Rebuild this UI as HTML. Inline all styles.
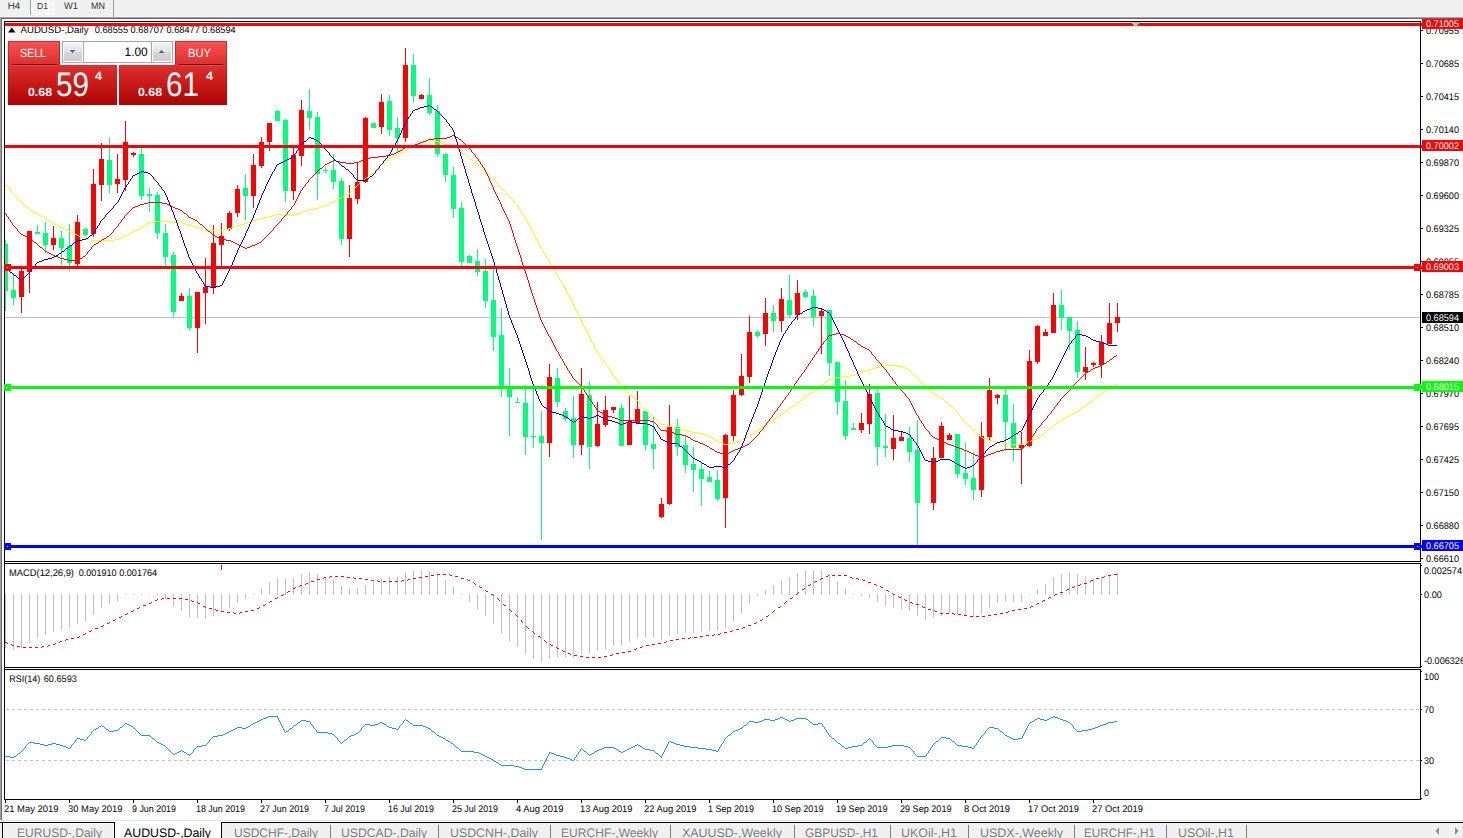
<!DOCTYPE html>
<html lang="en"><head><meta charset="utf-8"><title>AUDUSD-,Daily</title>
<style>html,body{margin:0;padding:0;background:#fff;overflow:hidden}body{width:1463px;height:838px;position:relative}</style>
</head><body>
<svg width="1463" height="838" viewBox="0 0 1463 838" shape-rendering="crispEdges" font-family='"Liberation Sans", Arial, sans-serif' style="position:absolute;left:0;top:0;display:block">
<defs><clipPath id="cm"><rect x="5" y="22" width="1415" height="539"/></clipPath><clipPath id="cmacd"><rect x="5" y="564" width="1415" height="103"/></clipPath><clipPath id="crsi"><rect x="5" y="670" width="1415" height="129"/></clipPath><linearGradient id="gs" x1="0" y1="0" x2="0" y2="1"><stop offset="0" stop-color="#fb5252"/><stop offset="0.36" stop-color="#e03030"/><stop offset="1" stop-color="#b00202"/></linearGradient><linearGradient id="gbtn" x1="0" y1="0" x2="0" y2="1"><stop offset="0" stop-color="#f3f3f3"/><stop offset="0.5" stop-color="#e2e2e2"/><stop offset="0.5" stop-color="#d6d6d6"/><stop offset="1" stop-color="#cecece"/></linearGradient></defs>
<rect x="0" y="0" width="1463" height="838" fill="#ffffff"/>
<rect x="0" y="0" width="1463" height="17" fill="#f0f0f0"/>
<rect x="0" y="16" width="1463" height="1" fill="#f7f7f7"/>
<rect x="0" y="17" width="1463" height="1" fill="#a0a0a0"/>
<rect x="0" y="18" width="1463" height="1" fill="#696969"/>
<rect x="0" y="17" width="1" height="804" fill="#a0a0a0"/>
<rect x="1" y="18" width="1" height="803" fill="#696969"/>
<rect x="4" y="21" width="1417" height="1" fill="#000"/>
<rect x="4" y="21" width="1" height="779" fill="#000"/>
<rect x="1420" y="21" width="1" height="541" fill="#000"/>
<rect x="4" y="561" width="1417" height="1" fill="#000"/>
<rect x="4" y="563" width="1417" height="1" fill="#000"/>
<rect x="1420" y="563" width="1" height="105" fill="#000"/>
<rect x="4" y="667" width="1417" height="1" fill="#000"/>
<rect x="4" y="669" width="1417" height="1" fill="#000"/>
<rect x="1420" y="669" width="1" height="131" fill="#000"/>
<rect x="4" y="799" width="1417" height="1" fill="#000"/>
<rect x="5" y="562" width="1415" height="1" fill="#fff"/>
<rect x="5" y="668" width="1415" height="1" fill="#fff"/>
<g clip-path="url(#cm)">
<rect x="5" y="317" width="1415" height="1" fill="#c0c0c0"/>
<rect x="5" y="240" width="1" height="71" fill="#00ff7f"/>
<rect x="3" y="244" width="5" height="47" fill="#00ff7f"/>
<rect x="13" y="273" width="1" height="32" fill="#00ff7f"/>
<rect x="11" y="290" width="5" height="8" fill="#00ff7f"/>
<rect x="21" y="268" width="1" height="45" fill="#ff0000"/>
<rect x="19" y="271" width="5" height="26" fill="#ff0000"/>
<rect x="29" y="231" width="1" height="62" fill="#ff0000"/>
<rect x="27" y="231" width="5" height="41" fill="#ff0000"/>
<rect x="37" y="225" width="1" height="9" fill="#00ff7f"/>
<rect x="35" y="232" width="5" height="2" fill="#00ff7f"/>
<rect x="45" y="222" width="1" height="32" fill="#00ff7f"/>
<rect x="43" y="233" width="5" height="12" fill="#00ff7f"/>
<rect x="53" y="226" width="1" height="24" fill="#ff0000"/>
<rect x="51" y="238" width="5" height="7" fill="#ff0000"/>
<rect x="61" y="231" width="1" height="34" fill="#00ff7f"/>
<rect x="59" y="238" width="5" height="10" fill="#00ff7f"/>
<rect x="69" y="224" width="1" height="47" fill="#00ff7f"/>
<rect x="67" y="246" width="5" height="17" fill="#00ff7f"/>
<rect x="77" y="215" width="1" height="51" fill="#ff0000"/>
<rect x="75" y="222" width="5" height="42" fill="#ff0000"/>
<rect x="85" y="228" width="1" height="8" fill="#00ff7f"/>
<rect x="83" y="229" width="5" height="6" fill="#00ff7f"/>
<rect x="93" y="169" width="1" height="68" fill="#ff0000"/>
<rect x="91" y="184" width="5" height="50" fill="#ff0000"/>
<rect x="101" y="143" width="1" height="58" fill="#ff0000"/>
<rect x="99" y="159" width="5" height="26" fill="#ff0000"/>
<rect x="109" y="138" width="1" height="55" fill="#00ff7f"/>
<rect x="107" y="160" width="5" height="25" fill="#00ff7f"/>
<rect x="117" y="154" width="1" height="39" fill="#ff0000"/>
<rect x="115" y="179" width="5" height="5" fill="#ff0000"/>
<rect x="125" y="121" width="1" height="70" fill="#ff0000"/>
<rect x="123" y="142" width="5" height="38" fill="#ff0000"/>
<rect x="133" y="152" width="1" height="5" fill="#ff0000"/>
<rect x="131" y="153" width="5" height="2" fill="#ff0000"/>
<rect x="141" y="148" width="1" height="52" fill="#00ff7f"/>
<rect x="139" y="154" width="5" height="42" fill="#00ff7f"/>
<rect x="149" y="188" width="1" height="24" fill="#00ff7f"/>
<rect x="147" y="194" width="5" height="2" fill="#00ff7f"/>
<rect x="157" y="192" width="1" height="47" fill="#00ff7f"/>
<rect x="155" y="195" width="5" height="38" fill="#00ff7f"/>
<rect x="165" y="224" width="1" height="42" fill="#00ff7f"/>
<rect x="163" y="233" width="5" height="24" fill="#00ff7f"/>
<rect x="173" y="252" width="1" height="65" fill="#00ff7f"/>
<rect x="171" y="255" width="5" height="57" fill="#00ff7f"/>
<rect x="181" y="293" width="1" height="8" fill="#ff0000"/>
<rect x="179" y="296" width="5" height="5" fill="#ff0000"/>
<rect x="189" y="288" width="1" height="43" fill="#00ff7f"/>
<rect x="187" y="296" width="5" height="32" fill="#00ff7f"/>
<rect x="197" y="292" width="1" height="61" fill="#ff0000"/>
<rect x="195" y="292" width="5" height="36" fill="#ff0000"/>
<rect x="205" y="258" width="1" height="66" fill="#ff0000"/>
<rect x="203" y="287" width="5" height="6" fill="#ff0000"/>
<rect x="213" y="225" width="1" height="69" fill="#ff0000"/>
<rect x="211" y="243" width="5" height="45" fill="#ff0000"/>
<rect x="221" y="223" width="1" height="43" fill="#ff0000"/>
<rect x="219" y="236" width="5" height="9" fill="#ff0000"/>
<rect x="229" y="211" width="1" height="20" fill="#ff0000"/>
<rect x="227" y="213" width="5" height="16" fill="#ff0000"/>
<rect x="237" y="185" width="1" height="32" fill="#ff0000"/>
<rect x="235" y="189" width="5" height="24" fill="#ff0000"/>
<rect x="245" y="174" width="1" height="46" fill="#00ff7f"/>
<rect x="243" y="188" width="5" height="8" fill="#00ff7f"/>
<rect x="253" y="154" width="1" height="54" fill="#ff0000"/>
<rect x="251" y="165" width="5" height="31" fill="#ff0000"/>
<rect x="261" y="137" width="1" height="31" fill="#ff0000"/>
<rect x="259" y="142" width="5" height="24" fill="#ff0000"/>
<rect x="269" y="123" width="1" height="28" fill="#ff0000"/>
<rect x="267" y="123" width="5" height="19" fill="#ff0000"/>
<rect x="277" y="110" width="1" height="11" fill="#00ff7f"/>
<rect x="275" y="111" width="5" height="10" fill="#00ff7f"/>
<rect x="285" y="119" width="1" height="83" fill="#00ff7f"/>
<rect x="283" y="120" width="5" height="71" fill="#00ff7f"/>
<rect x="293" y="148" width="1" height="52" fill="#ff0000"/>
<rect x="291" y="155" width="5" height="36" fill="#ff0000"/>
<rect x="301" y="100" width="1" height="66" fill="#ff0000"/>
<rect x="299" y="110" width="5" height="46" fill="#ff0000"/>
<rect x="309" y="89" width="1" height="41" fill="#00ff7f"/>
<rect x="307" y="111" width="5" height="7" fill="#00ff7f"/>
<rect x="317" y="112" width="1" height="88" fill="#00ff7f"/>
<rect x="315" y="117" width="5" height="57" fill="#00ff7f"/>
<rect x="325" y="167" width="1" height="6" fill="#00ff7f"/>
<rect x="323" y="170" width="5" height="1" fill="#00ff7f"/>
<rect x="333" y="154" width="1" height="35" fill="#00ff7f"/>
<rect x="331" y="170" width="5" height="12" fill="#00ff7f"/>
<rect x="341" y="178" width="1" height="67" fill="#00ff7f"/>
<rect x="339" y="181" width="5" height="58" fill="#00ff7f"/>
<rect x="349" y="185" width="1" height="72" fill="#ff0000"/>
<rect x="347" y="198" width="5" height="41" fill="#ff0000"/>
<rect x="357" y="163" width="1" height="41" fill="#ff0000"/>
<rect x="355" y="182" width="5" height="17" fill="#ff0000"/>
<rect x="365" y="117" width="1" height="66" fill="#ff0000"/>
<rect x="363" y="118" width="5" height="64" fill="#ff0000"/>
<rect x="373" y="123" width="1" height="5" fill="#00ff7f"/>
<rect x="371" y="123" width="5" height="5" fill="#00ff7f"/>
<rect x="381" y="94" width="1" height="40" fill="#ff0000"/>
<rect x="379" y="102" width="5" height="25" fill="#ff0000"/>
<rect x="389" y="95" width="1" height="41" fill="#00ff7f"/>
<rect x="387" y="101" width="5" height="29" fill="#00ff7f"/>
<rect x="397" y="117" width="1" height="36" fill="#00ff7f"/>
<rect x="395" y="128" width="5" height="10" fill="#00ff7f"/>
<rect x="405" y="48" width="1" height="94" fill="#ff0000"/>
<rect x="403" y="65" width="5" height="73" fill="#ff0000"/>
<rect x="413" y="54" width="1" height="49" fill="#00ff7f"/>
<rect x="411" y="65" width="5" height="31" fill="#00ff7f"/>
<rect x="421" y="94" width="1" height="5" fill="#ff0000"/>
<rect x="419" y="95" width="5" height="4" fill="#ff0000"/>
<rect x="429" y="78" width="1" height="37" fill="#00ff7f"/>
<rect x="427" y="95" width="5" height="18" fill="#00ff7f"/>
<rect x="437" y="105" width="1" height="52" fill="#00ff7f"/>
<rect x="435" y="111" width="5" height="43" fill="#00ff7f"/>
<rect x="445" y="153" width="1" height="29" fill="#00ff7f"/>
<rect x="443" y="154" width="5" height="21" fill="#00ff7f"/>
<rect x="453" y="167" width="1" height="51" fill="#00ff7f"/>
<rect x="451" y="175" width="5" height="34" fill="#00ff7f"/>
<rect x="461" y="202" width="1" height="65" fill="#00ff7f"/>
<rect x="459" y="208" width="5" height="54" fill="#00ff7f"/>
<rect x="469" y="255" width="1" height="8" fill="#00ff7f"/>
<rect x="467" y="256" width="5" height="7" fill="#00ff7f"/>
<rect x="477" y="249" width="1" height="27" fill="#00ff7f"/>
<rect x="475" y="261" width="5" height="11" fill="#00ff7f"/>
<rect x="485" y="259" width="1" height="49" fill="#00ff7f"/>
<rect x="483" y="271" width="5" height="30" fill="#00ff7f"/>
<rect x="493" y="270" width="1" height="81" fill="#00ff7f"/>
<rect x="491" y="300" width="5" height="37" fill="#00ff7f"/>
<rect x="501" y="308" width="1" height="89" fill="#00ff7f"/>
<rect x="499" y="335" width="5" height="51" fill="#00ff7f"/>
<rect x="509" y="368" width="1" height="68" fill="#00ff7f"/>
<rect x="507" y="386" width="5" height="11" fill="#00ff7f"/>
<rect x="517" y="397" width="1" height="6" fill="#00ff7f"/>
<rect x="515" y="402" width="5" height="1" fill="#00ff7f"/>
<rect x="525" y="385" width="1" height="70" fill="#00ff7f"/>
<rect x="523" y="403" width="5" height="34" fill="#00ff7f"/>
<rect x="533" y="387" width="1" height="61" fill="#00ff7f"/>
<rect x="531" y="436" width="5" height="1" fill="#00ff7f"/>
<rect x="541" y="411" width="1" height="129" fill="#00ff7f"/>
<rect x="539" y="436" width="5" height="7" fill="#00ff7f"/>
<rect x="549" y="364" width="1" height="93" fill="#ff0000"/>
<rect x="547" y="377" width="5" height="66" fill="#ff0000"/>
<rect x="557" y="368" width="1" height="39" fill="#00ff7f"/>
<rect x="555" y="378" width="5" height="24" fill="#00ff7f"/>
<rect x="565" y="408" width="1" height="13" fill="#00ff7f"/>
<rect x="563" y="411" width="5" height="8" fill="#00ff7f"/>
<rect x="573" y="396" width="1" height="62" fill="#00ff7f"/>
<rect x="571" y="418" width="5" height="27" fill="#00ff7f"/>
<rect x="581" y="368" width="1" height="87" fill="#ff0000"/>
<rect x="579" y="394" width="5" height="51" fill="#ff0000"/>
<rect x="589" y="381" width="1" height="88" fill="#00ff7f"/>
<rect x="587" y="395" width="5" height="52" fill="#00ff7f"/>
<rect x="597" y="402" width="1" height="45" fill="#ff0000"/>
<rect x="595" y="424" width="5" height="22" fill="#ff0000"/>
<rect x="605" y="396" width="1" height="31" fill="#ff0000"/>
<rect x="603" y="410" width="5" height="15" fill="#ff0000"/>
<rect x="613" y="407" width="1" height="6" fill="#ff0000"/>
<rect x="611" y="407" width="5" height="3" fill="#ff0000"/>
<rect x="621" y="404" width="1" height="42" fill="#00ff7f"/>
<rect x="619" y="408" width="5" height="38" fill="#00ff7f"/>
<rect x="629" y="396" width="1" height="49" fill="#ff0000"/>
<rect x="627" y="422" width="5" height="23" fill="#ff0000"/>
<rect x="637" y="391" width="1" height="32" fill="#ff0000"/>
<rect x="635" y="409" width="5" height="14" fill="#ff0000"/>
<rect x="645" y="410" width="1" height="41" fill="#00ff7f"/>
<rect x="643" y="411" width="5" height="34" fill="#00ff7f"/>
<rect x="653" y="417" width="1" height="52" fill="#00ff7f"/>
<rect x="651" y="444" width="5" height="5" fill="#00ff7f"/>
<rect x="661" y="498" width="1" height="20" fill="#ff0000"/>
<rect x="659" y="504" width="5" height="13" fill="#ff0000"/>
<rect x="669" y="405" width="1" height="100" fill="#ff0000"/>
<rect x="667" y="427" width="5" height="77" fill="#ff0000"/>
<rect x="677" y="419" width="1" height="37" fill="#00ff7f"/>
<rect x="675" y="427" width="5" height="20" fill="#00ff7f"/>
<rect x="685" y="436" width="1" height="37" fill="#00ff7f"/>
<rect x="683" y="445" width="5" height="20" fill="#00ff7f"/>
<rect x="693" y="447" width="1" height="45" fill="#00ff7f"/>
<rect x="691" y="464" width="5" height="6" fill="#00ff7f"/>
<rect x="701" y="463" width="1" height="43" fill="#00ff7f"/>
<rect x="699" y="469" width="5" height="10" fill="#00ff7f"/>
<rect x="709" y="471" width="1" height="11" fill="#00ff7f"/>
<rect x="707" y="477" width="5" height="5" fill="#00ff7f"/>
<rect x="717" y="470" width="1" height="31" fill="#00ff7f"/>
<rect x="715" y="480" width="5" height="19" fill="#00ff7f"/>
<rect x="725" y="434" width="1" height="94" fill="#ff0000"/>
<rect x="723" y="435" width="5" height="63" fill="#ff0000"/>
<rect x="733" y="390" width="1" height="51" fill="#ff0000"/>
<rect x="731" y="395" width="5" height="41" fill="#ff0000"/>
<rect x="741" y="354" width="1" height="42" fill="#ff0000"/>
<rect x="739" y="376" width="5" height="19" fill="#ff0000"/>
<rect x="749" y="316" width="1" height="67" fill="#ff0000"/>
<rect x="747" y="332" width="5" height="45" fill="#ff0000"/>
<rect x="757" y="330" width="1" height="8" fill="#00ff7f"/>
<rect x="755" y="332" width="5" height="4" fill="#00ff7f"/>
<rect x="765" y="298" width="1" height="48" fill="#ff0000"/>
<rect x="763" y="313" width="5" height="21" fill="#ff0000"/>
<rect x="773" y="305" width="1" height="27" fill="#00ff7f"/>
<rect x="771" y="313" width="5" height="8" fill="#00ff7f"/>
<rect x="781" y="288" width="1" height="44" fill="#ff0000"/>
<rect x="779" y="299" width="5" height="22" fill="#ff0000"/>
<rect x="789" y="275" width="1" height="43" fill="#00ff7f"/>
<rect x="787" y="300" width="5" height="15" fill="#00ff7f"/>
<rect x="797" y="280" width="1" height="40" fill="#ff0000"/>
<rect x="795" y="293" width="5" height="22" fill="#ff0000"/>
<rect x="805" y="289" width="1" height="9" fill="#00ff7f"/>
<rect x="803" y="292" width="5" height="5" fill="#00ff7f"/>
<rect x="813" y="289" width="1" height="37" fill="#00ff7f"/>
<rect x="811" y="296" width="5" height="21" fill="#00ff7f"/>
<rect x="821" y="308" width="1" height="46" fill="#ff0000"/>
<rect x="819" y="311" width="5" height="5" fill="#ff0000"/>
<rect x="829" y="310" width="1" height="66" fill="#00ff7f"/>
<rect x="827" y="310" width="5" height="53" fill="#00ff7f"/>
<rect x="837" y="362" width="1" height="53" fill="#00ff7f"/>
<rect x="835" y="362" width="5" height="40" fill="#00ff7f"/>
<rect x="845" y="380" width="1" height="60" fill="#00ff7f"/>
<rect x="843" y="401" width="5" height="35" fill="#00ff7f"/>
<rect x="853" y="423" width="1" height="7" fill="#00ff7f"/>
<rect x="851" y="428" width="5" height="2" fill="#00ff7f"/>
<rect x="861" y="413" width="1" height="20" fill="#ff0000"/>
<rect x="859" y="423" width="5" height="7" fill="#ff0000"/>
<rect x="869" y="384" width="1" height="50" fill="#ff0000"/>
<rect x="867" y="394" width="5" height="30" fill="#ff0000"/>
<rect x="877" y="388" width="1" height="78" fill="#00ff7f"/>
<rect x="875" y="393" width="5" height="54" fill="#00ff7f"/>
<rect x="885" y="414" width="1" height="43" fill="#00ff7f"/>
<rect x="883" y="446" width="5" height="2" fill="#00ff7f"/>
<rect x="893" y="415" width="1" height="45" fill="#ff0000"/>
<rect x="891" y="438" width="5" height="11" fill="#ff0000"/>
<rect x="901" y="432" width="1" height="9" fill="#ff0000"/>
<rect x="899" y="437" width="5" height="4" fill="#ff0000"/>
<rect x="909" y="427" width="1" height="35" fill="#00ff7f"/>
<rect x="907" y="438" width="5" height="14" fill="#00ff7f"/>
<rect x="917" y="420" width="1" height="125" fill="#00ff7f"/>
<rect x="915" y="450" width="5" height="53" fill="#00ff7f"/>
<rect x="933" y="447" width="1" height="63" fill="#ff0000"/>
<rect x="931" y="458" width="5" height="45" fill="#ff0000"/>
<rect x="941" y="422" width="1" height="36" fill="#ff0000"/>
<rect x="939" y="426" width="5" height="32" fill="#ff0000"/>
<rect x="949" y="433" width="1" height="7" fill="#ff0000"/>
<rect x="947" y="435" width="5" height="5" fill="#ff0000"/>
<rect x="957" y="434" width="1" height="44" fill="#00ff7f"/>
<rect x="955" y="434" width="5" height="40" fill="#00ff7f"/>
<rect x="965" y="443" width="1" height="42" fill="#00ff7f"/>
<rect x="963" y="473" width="5" height="6" fill="#00ff7f"/>
<rect x="973" y="452" width="1" height="48" fill="#00ff7f"/>
<rect x="971" y="478" width="5" height="12" fill="#00ff7f"/>
<rect x="981" y="422" width="1" height="75" fill="#ff0000"/>
<rect x="979" y="436" width="5" height="54" fill="#ff0000"/>
<rect x="989" y="378" width="1" height="62" fill="#ff0000"/>
<rect x="987" y="390" width="5" height="47" fill="#ff0000"/>
<rect x="997" y="394" width="1" height="10" fill="#ff0000"/>
<rect x="995" y="395" width="5" height="3" fill="#ff0000"/>
<rect x="1005" y="388" width="1" height="63" fill="#00ff7f"/>
<rect x="1003" y="395" width="5" height="27" fill="#00ff7f"/>
<rect x="1013" y="404" width="1" height="57" fill="#00ff7f"/>
<rect x="1011" y="423" width="5" height="25" fill="#00ff7f"/>
<rect x="1021" y="432" width="1" height="52" fill="#ff0000"/>
<rect x="1019" y="445" width="5" height="3" fill="#ff0000"/>
<rect x="1029" y="350" width="1" height="97" fill="#ff0000"/>
<rect x="1027" y="361" width="5" height="85" fill="#ff0000"/>
<rect x="1037" y="325" width="1" height="39" fill="#ff0000"/>
<rect x="1035" y="326" width="5" height="36" fill="#ff0000"/>
<rect x="1045" y="329" width="1" height="7" fill="#ff0000"/>
<rect x="1043" y="332" width="5" height="4" fill="#ff0000"/>
<rect x="1053" y="293" width="1" height="40" fill="#ff0000"/>
<rect x="1051" y="305" width="5" height="28" fill="#ff0000"/>
<rect x="1061" y="290" width="1" height="40" fill="#00ff7f"/>
<rect x="1059" y="305" width="5" height="13" fill="#00ff7f"/>
<rect x="1069" y="317" width="1" height="33" fill="#00ff7f"/>
<rect x="1067" y="317" width="5" height="14" fill="#00ff7f"/>
<rect x="1077" y="321" width="1" height="57" fill="#00ff7f"/>
<rect x="1075" y="330" width="5" height="42" fill="#00ff7f"/>
<rect x="1085" y="347" width="1" height="33" fill="#ff0000"/>
<rect x="1083" y="367" width="5" height="5" fill="#ff0000"/>
<rect x="1093" y="362" width="1" height="5" fill="#ff0000"/>
<rect x="1091" y="363" width="5" height="2" fill="#ff0000"/>
<rect x="1101" y="335" width="1" height="43" fill="#ff0000"/>
<rect x="1099" y="342" width="5" height="23" fill="#ff0000"/>
<rect x="1109" y="303" width="1" height="41" fill="#ff0000"/>
<rect x="1107" y="323" width="5" height="21" fill="#ff0000"/>
<rect x="1117" y="303" width="1" height="29" fill="#ff0000"/>
<rect x="1115" y="317" width="5" height="6" fill="#ff0000"/>
<path d="M5 184.5h1M6 185.5h1M7 186.5h1M8 187.5h1M9.5 188v2M10 190.5h1M11 191.5h1M12 192.5h1M13 193.5h1M14 194.5h1M15 195.5h1M16 196.5h1M17.5 197v2M18 199.5h1M19 200.5h1M20 201.5h1M21 202.5h1M22 203.5h1M23 204.5h1M24 205.5h2M26 206.5h1M27 207.5h1M28 208.5h1M29 209.5h1M30 210.5h2M32 211.5h2M34 212.5h1M35 213.5h2M37 214.5h2M39 215.5h2M41 216.5h2M43 217.5h2M45 218.5h1M46 219.5h2M48 220.5h2M50 221.5h1M51 222.5h2M53 223.5h2M55 224.5h2M57 225.5h2M59 226.5h2M61 227.5h2M63 228.5h2M65 229.5h2M67 230.5h2M69 231.5h2M71 232.5h2M73 233.5h2M75 234.5h2M77 235.5h2M79 236.5h2M81 237.5h2M83 238.5h2M85 239.5h5M90 240.5h24M114 239.5h5M119 238.5h2M121 237.5h2M123 236.5h2M125 235.5h2M127 234.5h2M129 233.5h2M131 232.5h2M133 231.5h2M135 230.5h2M137 229.5h2M139 228.5h2M141 227.5h1M142 226.5h2M144 225.5h2M146 224.5h1M147 223.5h2M149 222.5h5M154 221.5h16M170 222.5h13M183 223.5h3M186 224.5h2M188 225.5h4M192 226.5h4M196 227.5h3M199 228.5h3M202 229.5h2M204 230.5h20M224 229.5h4M228 228.5h3M231 227.5h3M234 226.5h2M236 225.5h4M240 224.5h4M244 223.5h3M247 222.5h3M250 221.5h2M252 220.5h4M256 219.5h4M260 218.5h4M264 217.5h4M268 216.5h4M272 215.5h4M276 214.5h6M282 215.5h13M295 214.5h3M298 213.5h2M300 212.5h3M303 211.5h3M306 210.5h2M308 209.5h6M314 208.5h5M319 207.5h3M322 206.5h2M324 205.5h3M327 204.5h2M329 203.5h2M331 202.5h2M333 201.5h2M335 200.5h2M337 199.5h2M339 198.5h2M341 197.5h2M343 196.5h2M345 195.5h2M347 194.5h2M349 193.5h1M350 192.5h1M351 191.5h1M352 190.5h1M353 189.5h1M354 188.5h1M355 187.5h1M356 186.5h1M357 185.5h1M358 184.5h1M359 183.5h1M360 182.5h2M362 181.5h1M363 180.5h1M364 179.5h1M365 178.5h1M366 177.5h2M368 176.5h1M369 175.5h1M370 174.5h2M372 173.5h1M373 172.5h1M374 171.5h1M375 170.5h1M376 169.5h1M377 168.5h1M378 167.5h1M379 166.5h1M380 165.5h1M381 164.5h1M382 163.5h2M384 162.5h1M385 161.5h1M386 160.5h2M388 159.5h1M389 158.5h2M391 157.5h2M393 156.5h2M395 155.5h2M397 154.5h2M399 153.5h2M401 152.5h2M403 151.5h2M405 150.5h1M406 149.5h2M408 148.5h2M410 147.5h1M411 146.5h2M413 145.5h2M415 144.5h2M417 143.5h2M419 142.5h2M421 141.5h5M426 140.5h8M434 141.5h5M439 142.5h3M442 143.5h2M444 144.5h6M450 145.5h4M454 146.5h2M456 147.5h1M457 148.5h1M458 149.5h2M460 150.5h1M461 151.5h1M462 152.5h1M463 153.5h1M464 154.5h2M466 155.5h1M467 156.5h1M468 157.5h1M469 158.5h1M470 159.5h2M472 160.5h1M473 161.5h1M474 162.5h2M476 163.5h1M477 164.5h1M478 165.5h1M479 166.5h1M480 167.5h2M482 168.5h1M483 169.5h1M484 170.5h1M485 171.5h1M486 172.5h1M487 173.5h1M488 174.5h1M489 175.5h1M490 176.5h1M491 177.5h1M492 178.5h1M493 179.5h1M494 180.5h1M495 181.5h1M496 182.5h1M497.5 183v2M498 185.5h1M499 186.5h1M500 187.5h1M501 188.5h1M502 189.5h1M503 190.5h1M504 191.5h1M505 192.5h1M506 193.5h1M507 194.5h1M508 195.5h1M509 196.5h1M510 197.5h1M511 198.5h1M512 199.5h1M513.5 200v2M514 202.5h1M515 203.5h1M516 204.5h1M517 205.5h1M518.5 206v2M519.5 208v2M520 210.5h1M521.5 211v2M522 213.5h1M523.5 214v2M524.5 216v2M525 218.5h1M526.5 219v2M527.5 221v2M528.5 223v2M529.5 225v2M530.5 227v2M531.5 229v2M532.5 231v2M533 233.5h1M534.5 234v2M535.5 236v2M536.5 238v2M537.5 240v2M538.5 242v2M539.5 244v2M540.5 246v2M541 248.5h1M542.5 249v2M543.5 251v2M544 253.5h1M545.5 254v2M546 256.5h1M547.5 257v2M548.5 259v2M549 261.5h1M550.5 262v2M551.5 264v2M552.5 266v2M553 268.5h1M554.5 269v2M555.5 271v2M556.5 273v2M557 275.5h1M558.5 276v2M559.5 278v2M560 280.5h1M561.5 281v2M562 283.5h1M563.5 284v2M564.5 286v2M565.5 288v2M566.5 290v2M567.5 292v2M568.5 294v2M569.5 296v2M570.5 298v2M571.5 300v2M572.5 302v2M573.5 304v2M574.5 306v2M575.5 308v2M576.5 310v2M577.5 312v2M578.5 314v2M579.5 316v2M580.5 318v2M581.5 320v2M582.5 322v2M583.5 324v2M584.5 326v2M585.5 328v2M586.5 330v2M587.5 332v2M588.5 334v2M589.5 336v2M590.5 338v2M591.5 340v2M592.5 342v2M593.5 344v2M594.5 346v2M595.5 348v2M596.5 350v2M597 352.5h1M598.5 353v2M599 355.5h1M600 356.5h1M601.5 357v2M602 359.5h1M603 360.5h1M604.5 361v2M605 363.5h1M606.5 364v2M607 366.5h1M608.5 367v2M609 369.5h1M610.5 370v2M611 372.5h1M612.5 373v2M613 375.5h1M614.5 376v2M615 378.5h1M616 379.5h1M617.5 380v2M618 382.5h1M619 383.5h1M620.5 384v2M621 386.5h1M622 387.5h1M623 388.5h1M624 389.5h1M625 390.5h1M626 391.5h1M627 392.5h1M628 393.5h1M629 394.5h1M630 395.5h2M632 396.5h1M633 397.5h1M634 398.5h2M636 399.5h1M637 400.5h1M638 401.5h1M639.5 402v2M640 404.5h1M641 405.5h1M642 406.5h1M643.5 407v2M644 409.5h1M645 410.5h1M646 411.5h2M648 412.5h1M649 413.5h1M650 414.5h2M652 415.5h1M653 416.5h1M654 417.5h1M655 418.5h1M656 419.5h1M657 420.5h1M658 421.5h1M659 422.5h1M660 423.5h1M661 424.5h3M664 425.5h4M668 426.5h4M672 427.5h4M676 428.5h4M680 429.5h4M684 430.5h4M688 431.5h4M692 432.5h6M698 433.5h5M703 434.5h3M706 435.5h2M708 436.5h2M710 437.5h2M712 438.5h2M714 439.5h1M715 440.5h2M717 441.5h2M719 442.5h3M722 443.5h2M724 444.5h4M728 443.5h4M732 442.5h4M736 441.5h4M740 440.5h2M742 439.5h2M744 438.5h2M746 437.5h1M747 436.5h2M749 435.5h1M750 434.5h2M752 433.5h2M754 432.5h1M755 431.5h2M757 430.5h1M758 429.5h2M760 428.5h1M761 427.5h1M762 426.5h2M764 425.5h1M765 424.5h1M766 423.5h2M768 422.5h2M770 421.5h1M771 420.5h2M773 419.5h1M774 418.5h2M776 417.5h2M778 416.5h1M779 415.5h2M781 414.5h1M782 413.5h2M784 412.5h1M785 411.5h1M786 410.5h2M788 409.5h1M789 408.5h1M790 407.5h2M792 406.5h2M794 405.5h1M795 404.5h2M797 403.5h1M798 402.5h1M799 401.5h1M800 400.5h2M802 399.5h1M803 398.5h1M804 397.5h1M805 396.5h1M806 395.5h2M808 394.5h2M810 393.5h1M811 392.5h2M813 391.5h1M814 390.5h2M816 389.5h1M817 388.5h1M818 387.5h2M820 386.5h1M821 385.5h1M822 384.5h2M824 383.5h1M825 382.5h1M826 381.5h2M828 380.5h1M829 379.5h3M832 378.5h4M836 377.5h6M842 376.5h8M850 375.5h5M855 374.5h3M858 373.5h2M860 372.5h3M863 371.5h3M866 370.5h2M868 369.5h4M872 368.5h4M876 367.5h4M880 366.5h4M884 365.5h14M898 366.5h5M903 367.5h2M905 368.5h2M907 369.5h2M909 370.5h1M910 371.5h1M911 372.5h1M912 373.5h1M913 374.5h1M914 375.5h1M915 376.5h1M916 377.5h1M917 378.5h1M918 379.5h1M919 380.5h1M920 381.5h1M921 382.5h1M922 383.5h1M923 384.5h1M924 385.5h1M925 386.5h1M926 387.5h1M927 388.5h1M928 389.5h2M930 390.5h1M931 391.5h1M932 392.5h1M933 393.5h1M934 394.5h2M936 395.5h2M938 396.5h1M939 397.5h2M941 398.5h1M942 399.5h2M944 400.5h1M945 401.5h1M946 402.5h2M948 403.5h1M949 404.5h1M950 405.5h1M951 406.5h1M952 407.5h1M953 408.5h1M954 409.5h1M955 410.5h1M956 411.5h1M957 412.5h1M958 413.5h1M959.5 414v2M960 416.5h1M961 417.5h1M962 418.5h1M963.5 419v2M964 421.5h1M965 422.5h1M966 423.5h1M967 424.5h1M968 425.5h1M969 426.5h1M970 427.5h1M971 428.5h1M972 429.5h1M973 430.5h1M974 431.5h1M975 432.5h1M976 433.5h2M978 434.5h1M979 435.5h1M980 436.5h1M981 437.5h2M983 438.5h3M986 439.5h2M988 440.5h4M992 441.5h4M996 442.5h6M1002 443.5h8M1010 444.5h13M1023 443.5h3M1026 442.5h2M1028 441.5h3M1031 440.5h3M1034 439.5h2M1036 438.5h2M1038 437.5h2M1040 436.5h1M1041 435.5h1M1042 434.5h2M1044 433.5h1M1045 432.5h1M1046 431.5h1M1047 430.5h1M1048 429.5h2M1050 428.5h1M1051 427.5h1M1052 426.5h1M1053 425.5h1M1054 424.5h2M1056 423.5h2M1058 422.5h1M1059 421.5h2M1061 420.5h1M1062 419.5h2M1064 418.5h2M1066 417.5h1M1067 416.5h2M1069 415.5h2M1071 414.5h2M1073 413.5h2M1075 412.5h2M1077 411.5h1M1078 410.5h2M1080 409.5h1M1081 408.5h1M1082 407.5h2M1084 406.5h1M1085 405.5h1M1086 404.5h2M1088 403.5h1M1089 402.5h1M1090 401.5h2M1092 400.5h1M1093 399.5h1M1094 398.5h2M1096 397.5h1M1097 396.5h1M1098 395.5h2M1100 394.5h1M1101 393.5h1M1102 392.5h2M1104 391.5h2M1106 390.5h1M1107 389.5h2M1109 388.5h1M1110 387.5h2M1112 386.5h2M1114 385.5h1M1115 384.5h2" fill="none" stroke="#ffff00" stroke-width="1"/>
<path d="M5 213.5h1M6.5 214v2M7 216.5h1M8.5 217v2M9 219.5h1M10.5 220v2M11 222.5h1M12.5 223v2M13 225.5h1M14 226.5h1M15 227.5h1M16 228.5h1M17.5 229v2M18 231.5h1M19 232.5h1M20 233.5h1M21 234.5h2M23 235.5h2M25 236.5h2M27 237.5h2M29 238.5h1M30 239.5h2M32 240.5h1M33 241.5h1M34 242.5h2M36 243.5h1M37 244.5h1M38 245.5h1M39 246.5h1M40 247.5h2M42 248.5h1M43 249.5h1M44 250.5h1M45 251.5h2M47 252.5h2M49 253.5h2M51 254.5h2M53 255.5h2M55 256.5h3M58 257.5h2M60 258.5h4M64 259.5h4M68 260.5h10M78 259.5h2M80 258.5h2M82 257.5h1M83 256.5h2M85 255.5h1M86 254.5h1M87.5 252v2M88 251.5h1M89 250.5h1M90 249.5h1M91.5 247v2M92 246.5h1M93 245.5h1M94 244.5h2M96 243.5h2M98 242.5h1M99 241.5h2M101 240.5h1M102 239.5h2M104 238.5h2M106 237.5h1M107 236.5h2M109 235.5h1M110 234.5h1M111 233.5h1M112 232.5h1M113.5 230v2M114 229.5h1M115 228.5h1M116 227.5h1M117 226.5h1M118.5 224v2M119 223.5h1M120 222.5h1M121.5 220v2M122 219.5h1M123 218.5h1M124.5 216v2M125 215.5h1M126 214.5h1M127 213.5h1M128 212.5h1M129 211.5h1M130 210.5h1M131 209.5h1M132 208.5h1M133 207.5h2M135 206.5h3M138 205.5h2M140 204.5h4M144 203.5h4M148 202.5h14M162 203.5h5M167 204.5h2M169 205.5h2M171 206.5h2M173 207.5h2M175 208.5h3M178 209.5h2M180 210.5h2M182 211.5h1M183 212.5h1M184 213.5h2M186 214.5h1M187 215.5h1M188 216.5h1M189 217.5h2M191 218.5h2M193 219.5h2M195 220.5h2M197 221.5h1M198 222.5h1M199 223.5h1M200 224.5h2M202 225.5h1M203 226.5h1M204 227.5h1M205 228.5h1M206 229.5h1M207 230.5h1M208 231.5h2M210 232.5h1M211 233.5h1M212 234.5h1M213 235.5h2M215 236.5h2M217 237.5h2M219 238.5h2M221 239.5h5M226 240.5h5M231 241.5h2M233 242.5h2M235 243.5h2M237 244.5h2M239 245.5h2M241 246.5h2M243 247.5h2M245 248.5h2M247 247.5h3M250 246.5h2M252 245.5h3M255 244.5h2M257 243.5h2M259 242.5h2M261 241.5h1M262 240.5h1M263 239.5h1M264 238.5h1M265 237.5h1M266 236.5h1M267 235.5h1M268 234.5h1M269 233.5h1M270 232.5h1M271 231.5h1M272 230.5h1M273.5 228v2M274 227.5h1M275 226.5h1M276 225.5h1M277 224.5h1M278 223.5h1M279 222.5h1M280 221.5h1M281.5 219v2M282 218.5h1M283 217.5h1M284 216.5h1M285 215.5h1M286 214.5h1M287.5 212v2M288 211.5h1M289 210.5h1M290 209.5h1M291.5 207v2M292 206.5h1M293 205.5h1M294.5 203v2M295.5 201v2M296.5 199v2M297.5 197v2M298.5 195v2M299.5 193v2M300.5 191v2M301 190.5h1M302.5 188v2M303 187.5h1M304 186.5h1M305.5 184v2M306 183.5h1M307 182.5h1M308.5 180v2M309 179.5h1M310 178.5h1M311 177.5h1M312 176.5h1M313 175.5h1M314 174.5h1M315 173.5h1M316 172.5h1M317 171.5h1M318 170.5h1M319 169.5h1M320 168.5h2M322 167.5h1M323 166.5h1M324 165.5h1M325 164.5h2M327 163.5h2M329 162.5h2M331 161.5h2M333 160.5h3M336 161.5h4M340 162.5h6M346 163.5h8M354 162.5h5M359 161.5h2M361 160.5h2M363 159.5h2M365 158.5h5M370 157.5h8M378 156.5h8M386 155.5h5M391 154.5h3M394 153.5h2M396 152.5h2M398 151.5h2M400 150.5h2M402 149.5h1M403 148.5h2M405 147.5h3M408 146.5h4M412 145.5h3M415 144.5h3M418 143.5h2M420 142.5h3M423 141.5h3M426 140.5h2M428 139.5h6M434 138.5h13M447 137.5h3M450 136.5h2M452 135.5h2M454 136.5h2M456 137.5h2M458 138.5h1M459 139.5h2M461 140.5h1M462 141.5h1M463 142.5h1M464 143.5h1M465 144.5h1M466 145.5h1M467 146.5h1M468 147.5h1M469 148.5h1M470 149.5h1M471.5 150v2M472 152.5h1M473 153.5h1M474 154.5h1M475.5 155v2M476 157.5h1M477 158.5h1M478.5 159v2M479 161.5h1M480.5 162v2M481 164.5h1M482.5 165v2M483 167.5h1M484.5 168v2M485.5 170v2M486.5 172v2M487.5 174v2M488.5 176v2M489.5 178v3M490.5 181v2M491.5 183v2M492.5 185v2M493.5 187v3M494.5 190v2M495.5 192v2M496.5 194v2M497.5 196v2M498.5 198v2M499.5 200v2M500.5 202v2M501.5 204v3M502.5 207v2M503.5 209v2M504.5 211v2M505.5 213v2M506.5 215v2M507.5 217v2M508.5 219v2M509.5 221v3M510.5 224v3M511.5 227v3M512.5 230v3M513.5 233v4M514.5 237v3M515.5 240v3M516.5 243v3M517.5 246v3M518.5 249v3M519.5 252v3M520.5 255v3M521.5 258v4M522.5 262v3M523.5 265v3M524.5 268v3M525.5 271v3M526.5 274v3M527.5 277v3M528.5 280v3M529.5 283v4M530.5 287v3M531.5 290v3M532.5 293v3M533.5 296v3M534.5 299v3M535.5 302v3M536.5 305v3M537.5 308v3M538.5 311v3M539.5 314v3M540.5 317v3M541.5 320v2M542.5 322v2M543.5 324v2M544.5 326v2M545.5 328v2M546.5 330v2M547.5 332v2M548.5 334v2M549 336.5h1M550.5 337v2M551.5 339v2M552.5 341v2M553.5 343v2M554.5 345v2M555.5 347v2M556.5 349v2M557 351.5h1M558.5 352v2M559.5 354v2M560.5 356v2M561 358.5h1M562.5 359v2M563.5 361v2M564.5 363v2M565 365.5h1M566.5 366v2M567.5 368v2M568 370.5h1M569.5 371v2M570 373.5h1M571.5 374v2M572.5 376v2M573 378.5h1M574 379.5h1M575 380.5h1M576 381.5h1M577 382.5h1M578 383.5h1M579 384.5h1M580 385.5h1M581 386.5h1M582.5 387v2M583 389.5h1M584.5 390v2M585 392.5h1M586.5 393v2M587 395.5h1M588.5 396v2M589 398.5h1M590.5 399v2M591 401.5h1M592.5 402v2M593 404.5h1M594.5 405v2M595 407.5h1M596.5 408v2M597 410.5h1M598 411.5h2M600 412.5h2M602 413.5h1M603 414.5h2M605 415.5h3M608 416.5h4M612 417.5h3M615 418.5h3M618 419.5h2M620 420.5h30M650 421.5h4M654 422.5h1M655 423.5h1M656 424.5h1M657.5 425v2M658 427.5h1M659 428.5h1M660 429.5h1M661 430.5h5M666 431.5h5M671 432.5h3M674 433.5h2M676 434.5h6M682 435.5h4M686 436.5h2M688 437.5h2M690 438.5h1M691 439.5h2M693 440.5h2M695 441.5h3M698 442.5h2M700 443.5h3M703 444.5h2M705 445.5h2M707 446.5h2M709 447.5h1M710 448.5h2M712 449.5h2M714 450.5h1M715 451.5h2M717 452.5h3M720 453.5h4M724 454.5h3M727 453.5h2M729 452.5h2M731 451.5h2M733 450.5h2M735 449.5h3M738 448.5h2M740 447.5h3M743 446.5h2M745 445.5h2M747 444.5h2M749 443.5h1M750 442.5h1M751 441.5h1M752 440.5h1M753 439.5h1M754 438.5h1M755 437.5h1M756 436.5h1M757 435.5h1M758 434.5h1M759.5 432v2M760 431.5h1M761 430.5h1M762 429.5h1M763.5 427v2M764 426.5h1M765 425.5h1M766.5 423v2M767 422.5h1M768 421.5h1M769.5 419v2M770 418.5h1M771 417.5h1M772.5 415v2M773 414.5h1M774.5 412v2M775 411.5h1M776 410.5h1M777.5 408v2M778 407.5h1M779 406.5h1M780.5 404v2M781 403.5h1M782.5 401v2M783 400.5h1M784 399.5h1M785.5 397v2M786 396.5h1M787 395.5h1M788.5 393v2M789 392.5h1M790.5 390v2M791 389.5h1M792.5 387v2M793 386.5h1M794.5 384v2M795 383.5h1M796.5 381v2M797 380.5h1M798.5 378v2M799 377.5h1M800 376.5h1M801.5 374v2M802 373.5h1M803 372.5h1M804.5 370v2M805 369.5h1M806.5 367v2M807 366.5h1M808.5 364v2M809 363.5h1M810.5 361v2M811 360.5h1M812.5 358v2M813 357.5h1M814.5 355v2M815 354.5h1M816.5 352v2M817 351.5h1M818.5 349v2M819 348.5h1M820.5 346v2M821 345.5h1M822 344.5h1M823.5 342v2M824 341.5h1M825 340.5h1M826 339.5h1M827.5 337v2M828 336.5h1M829 335.5h3M832 334.5h4M836 333.5h4M840 334.5h4M844 335.5h2M846 336.5h2M848 337.5h2M850 338.5h1M851 339.5h2M853 340.5h1M854 341.5h2M856 342.5h1M857 343.5h1M858 344.5h2M860 345.5h1M861 346.5h2M863 347.5h2M865 348.5h2M867 349.5h2M869 350.5h1M870 351.5h1M871.5 352v2M872 354.5h1M873 355.5h1M874 356.5h1M875.5 357v2M876 359.5h1M877 360.5h1M878 361.5h1M879 362.5h1M880 363.5h1M881.5 364v2M882 366.5h1M883 367.5h1M884 368.5h1M885 369.5h1M886.5 370v2M887 372.5h1M888 373.5h1M889.5 374v2M890 376.5h1M891 377.5h1M892.5 378v2M893 380.5h1M894 381.5h1M895.5 382v2M896 384.5h1M897 385.5h1M898 386.5h1M899.5 387v2M900 389.5h1M901 390.5h1M902 391.5h1M903 392.5h1M904 393.5h1M905.5 394v2M906 396.5h1M907 397.5h1M908 398.5h1M909.5 399v2M910.5 401v2M911.5 403v2M912.5 405v2M913.5 407v2M914.5 409v2M915.5 411v2M916.5 413v2M917 415.5h1M918.5 416v2M919.5 418v2M920 420.5h1M921.5 421v2M922 423.5h1M923.5 424v2M924.5 426v2M925 428.5h1M926 429.5h1M927 430.5h1M928 431.5h1M929.5 432v2M930 434.5h1M931 435.5h1M932 436.5h1M933 437.5h2M935 438.5h2M937 439.5h2M939 440.5h2M941 441.5h2M943 442.5h3M946 443.5h2M948 444.5h3M951 445.5h3M954 446.5h2M956 447.5h3M959 448.5h3M962 449.5h2M964 450.5h3M967 451.5h2M969 452.5h2M971 453.5h2M973 454.5h2M975 455.5h3M978 456.5h2M980 457.5h3M983 456.5h3M986 455.5h2M988 454.5h3M991 453.5h3M994 452.5h2M996 451.5h4M1000 450.5h4M1004 449.5h18M1022 448.5h1M1023 447.5h1M1024 446.5h1M1025 445.5h1M1026 444.5h1M1027 443.5h1M1028 442.5h1M1029 441.5h1M1030.5 439v2M1031.5 437v2M1032 436.5h1M1033.5 434v2M1034 433.5h1M1035.5 431v2M1036.5 429v2M1037 428.5h1M1038 427.5h1M1039 426.5h1M1040 425.5h1M1041.5 423v2M1042 422.5h1M1043 421.5h1M1044 420.5h1M1045 419.5h1M1046 418.5h1M1047.5 416v2M1048 415.5h1M1049 414.5h1M1050 413.5h1M1051.5 411v2M1052 410.5h1M1053 409.5h1M1054.5 407v2M1055 406.5h1M1056 405.5h1M1057.5 403v2M1058 402.5h1M1059 401.5h1M1060.5 399v2M1061 398.5h1M1062 397.5h1M1063 396.5h1M1064 395.5h1M1065 394.5h1M1066 393.5h1M1067 392.5h1M1068 391.5h1M1069 390.5h1M1070 389.5h1M1071 388.5h1M1072 387.5h1M1073.5 385v2M1074 384.5h1M1075 383.5h1M1076 382.5h1M1077 381.5h1M1078 380.5h1M1079 379.5h1M1080 378.5h1M1081 377.5h1M1082 376.5h1M1083 375.5h1M1084 374.5h1M1085 373.5h1M1086 372.5h2M1088 371.5h2M1090 370.5h1M1091 369.5h2M1093 368.5h2M1095 367.5h3M1098 366.5h2M1100 365.5h2M1102 364.5h2M1104 363.5h2M1106 362.5h1M1107 361.5h2M1109 360.5h1M1110 359.5h2M1112 358.5h1M1113 357.5h1M1114 356.5h2M1116 355.5h1" fill="none" stroke="#ff0000" stroke-width="1"/>
<path d="M5 268.5h1M6 269.5h2M8 270.5h1M9 271.5h1M10 272.5h2M12 273.5h1M13 274.5h1M14 275.5h2M16 276.5h1M17 277.5h1M18 278.5h2M20 279.5h1M21 280.5h1M22 279.5h1M23 278.5h1M24 277.5h1M25 276.5h1M26 275.5h1M27 274.5h1M28 273.5h1M29 272.5h1M30 271.5h1M31.5 269v2M32 268.5h1M33 267.5h1M34 266.5h1M35.5 264v2M36 263.5h1M37 262.5h2M39 261.5h3M42 260.5h2M44 259.5h4M48 258.5h4M52 257.5h2M54 256.5h2M56 255.5h2M58 254.5h1M59 253.5h2M61 252.5h1M62 251.5h2M64 250.5h1M65 249.5h1M66 248.5h2M68 247.5h1M69 246.5h1M70 245.5h2M72 244.5h1M73 243.5h1M74 242.5h2M76 241.5h1M77 240.5h5M82 239.5h4M86 238.5h2M88 237.5h1M89 236.5h1M90 235.5h2M92 234.5h1M93 233.5h1M94.5 231v2M95.5 229v2M96 228.5h1M97.5 226v2M98 225.5h1M99.5 223v2M100.5 221v2M101 220.5h1M102 219.5h1M103 218.5h1M104 217.5h1M105.5 215v2M106 214.5h1M107 213.5h1M108 212.5h1M109 211.5h1M110 210.5h1M111 209.5h1M112 208.5h1M113.5 206v2M114 205.5h1M115 204.5h1M116 203.5h1M117 202.5h1M118.5 200v2M119.5 198v2M120.5 196v2M121.5 194v2M122.5 192v2M123.5 190v2M124.5 188v2M125 187.5h1M126.5 185v2M127 184.5h1M128.5 182v2M129 181.5h1M130.5 179v2M131 178.5h1M132.5 176v2M133 175.5h2M135 174.5h2M137 173.5h2M139 172.5h2M141 171.5h3M144 172.5h4M148 173.5h2M150 174.5h1M151 175.5h1M152 176.5h1M153.5 177v2M154 179.5h1M155 180.5h1M156 181.5h1M157 182.5h1M158.5 183v2M159 185.5h1M160 186.5h1M161.5 187v2M162 189.5h1M163 190.5h1M164.5 191v2M165.5 193v2M166.5 195v2M167.5 197v3M168.5 200v2M169.5 202v3M170.5 205v2M171.5 207v3M172.5 210v2M173.5 212v3M174.5 215v3M175.5 218v2M176.5 220v3M177.5 223v3M178.5 226v3M179.5 229v2M180.5 231v3M181.5 234v3M182.5 237v3M183.5 240v3M184.5 243v3M185.5 246v2M186.5 248v3M187.5 251v3M188.5 254v3M189.5 257v2M190.5 259v2M191.5 261v2M192.5 263v2M193.5 265v2M194.5 267v2M195.5 269v2M196.5 271v2M197 273.5h1M198.5 274v2M199.5 276v2M200 278.5h1M201.5 279v2M202 281.5h1M203.5 282v2M204.5 284v2M205 286.5h5M210 287.5h6M216 286.5h4M220 285.5h2M222.5 283v2M223.5 281v2M224.5 279v2M225.5 277v2M226.5 275v2M227.5 273v2M228.5 271v2M229.5 269v2M230.5 267v2M231.5 265v2M232.5 262v3M233.5 260v2M234.5 257v3M235.5 255v2M236.5 253v2M237.5 250v3M238.5 248v2M239.5 246v2M240.5 244v2M241.5 242v2M242.5 240v2M243.5 238v2M244.5 236v2M245.5 233v3M246.5 231v2M247.5 229v2M248.5 227v2M249.5 224v3M250.5 222v2M251.5 220v2M252.5 218v2M253.5 215v3M254.5 213v2M255.5 210v3M256.5 208v2M257.5 205v3M258.5 203v2M259.5 200v3M260.5 198v2M261.5 195v3M262.5 193v2M263.5 191v2M264.5 189v2M265.5 186v3M266.5 184v2M267.5 182v2M268.5 180v2M269.5 178v2M270.5 176v2M271.5 174v2M272.5 172v2M273 171.5h1M274.5 169v2M275.5 167v2M276.5 165v2M277 164.5h2M279 163.5h2M281 162.5h2M283 161.5h2M285 160.5h2M287 159.5h2M289 158.5h2M291 157.5h2M293 156.5h1M294.5 154v2M295 153.5h1M296.5 151v2M297 150.5h1M298.5 148v2M299 147.5h1M300.5 145v2M301 144.5h1M302 143.5h1M303 142.5h1M304 141.5h2M306 140.5h1M307 139.5h1M308 138.5h1M309 137.5h2M311 138.5h3M314 139.5h2M316 140.5h2M318 141.5h1M319 142.5h1M320 143.5h1M321.5 144v2M322 146.5h1M323 147.5h1M324 148.5h1M325 149.5h1M326 150.5h1M327 151.5h1M328 152.5h1M329.5 153v2M330 155.5h1M331 156.5h1M332 157.5h1M333 158.5h1M334 159.5h1M335 160.5h1M336 161.5h2M338 162.5h1M339 163.5h1M340 164.5h1M341 165.5h1M342 166.5h2M344 167.5h1M345 168.5h1M346 169.5h2M348 170.5h1M349 171.5h1M350 172.5h1M351 173.5h1M352 174.5h1M353.5 175v2M354 177.5h1M355 178.5h1M356 179.5h1M357 180.5h9M366 179.5h2M368 178.5h1M369 177.5h1M370 176.5h2M372 175.5h1M373 174.5h1M374 173.5h1M375.5 171v2M376 170.5h1M377 169.5h1M378 168.5h1M379.5 166v2M380 165.5h1M381 164.5h1M382 163.5h1M383.5 161v2M384 160.5h1M385 159.5h1M386 158.5h1M387.5 156v2M388 155.5h1M389 154.5h1M390.5 152v2M391.5 150v2M392.5 148v2M393 147.5h1M394.5 145v2M395.5 143v2M396.5 141v2M397.5 139v2M398.5 137v2M399.5 135v2M400.5 133v2M401.5 130v3M402.5 128v2M403.5 126v2M404.5 124v2M405.5 122v2M406.5 120v2M407 119.5h1M408.5 117v2M409 116.5h1M410.5 114v2M411 113.5h1M412.5 111v2M413 110.5h2M415 109.5h3M418 108.5h2M420 107.5h4M424 106.5h4M428 105.5h2M430 106.5h2M432 107.5h1M433 108.5h1M434 109.5h2M436 110.5h1M437 111.5h1M438 112.5h1M439 113.5h1M440 114.5h1M441 115.5h1M442 116.5h1M443 117.5h1M444 118.5h1M445 119.5h1M446.5 120v2M447 122.5h1M448 123.5h1M449.5 124v2M450 126.5h1M451 127.5h1M452.5 128v2M453.5 130v2M454.5 132v4M455.5 136v3M456.5 139v3M457.5 142v4M458.5 146v3M459.5 149v3M460.5 152v4M461.5 156v3M462.5 159v4M463.5 163v3M464.5 166v3M465.5 169v4M466.5 173v3M467.5 176v3M468.5 179v4M469.5 183v3M470.5 186v3M471.5 189v4M472.5 193v3M473.5 196v3M474.5 199v3M475.5 202v4M476.5 206v3M477.5 209v3M478.5 212v3M479.5 215v4M480.5 219v3M481.5 222v3M482.5 225v3M483.5 228v4M484.5 232v3M485.5 235v3M486.5 238v3M487.5 241v3M488.5 244v3M489.5 247v3M490.5 250v3M491.5 253v3M492.5 256v3M493.5 259v3M494.5 262v4M495.5 266v3M496.5 269v4M497.5 273v3M498.5 276v4M499.5 280v3M500.5 283v4M501.5 287v3M502.5 290v4M503.5 294v3M504.5 297v4M505.5 301v3M506.5 304v4M507.5 308v3M508.5 311v4M509.5 315v3M510.5 318v2M511.5 320v3M512.5 323v2M513.5 325v3M514.5 328v2M515.5 330v3M516.5 333v2M517.5 335v3M518.5 338v3M519.5 341v3M520.5 344v3M521.5 347v3M522.5 350v3M523.5 353v3M524.5 356v3M525.5 359v3M526.5 362v3M527.5 365v3M528.5 368v3M529.5 371v4M530.5 375v3M531.5 378v3M532.5 381v3M533.5 384v3M534.5 387v2M535.5 389v2M536.5 391v3M537.5 394v2M538.5 396v3M539.5 399v2M540.5 401v2M541.5 403v2M542 405.5h1M543 406.5h1M544 407.5h2M546 408.5h1M547 409.5h1M548 410.5h1M549 411.5h3M552 412.5h4M556 413.5h3M559 414.5h3M562 415.5h2M564 416.5h2M566 417.5h2M568 418.5h1M569 419.5h1M570 420.5h2M572 421.5h1M573 422.5h1M574 421.5h2M576 420.5h1M577 419.5h1M578 418.5h2M580 417.5h1M581 416.5h3M584 417.5h4M588 418.5h3M591 417.5h3M594 416.5h2M596 415.5h3M599 416.5h2M601 417.5h2M603 418.5h2M605 419.5h3M608 420.5h4M612 421.5h3M615 422.5h3M618 423.5h2M620 424.5h3M623 423.5h3M626 422.5h2M628 421.5h4M632 422.5h4M636 423.5h11M647 424.5h3M650 425.5h2M652 426.5h2M654.5 427v2M655.5 429v2M656 431.5h1M657.5 432v2M658 434.5h1M659.5 435v2M660.5 437v2M661 439.5h2M663 440.5h2M665 441.5h2M667 442.5h2M669 443.5h9M678 444.5h1M679 445.5h1M680 446.5h2M682 447.5h1M683 448.5h1M684 449.5h1M685 450.5h1M686 451.5h1M687 452.5h1M688 453.5h1M689 454.5h1M690 455.5h1M691 456.5h1M692 457.5h1M693 458.5h2M695 459.5h2M697 460.5h2M699 461.5h2M701 462.5h1M702 463.5h2M704 464.5h2M706 465.5h1M707 466.5h2M709 467.5h5M714 466.5h8M722 467.5h4M726 466.5h1M727 465.5h1M728 464.5h2M730 463.5h1M731 462.5h1M732 461.5h1M733 460.5h1M734.5 458v2M735.5 456v2M736 455.5h1M737.5 453v2M738 452.5h1M739.5 450v2M740.5 448v2M741.5 446v2M742.5 443v3M743.5 441v2M744.5 438v3M745.5 435v3M746.5 432v3M747.5 430v2M748.5 427v3M749.5 424v3M750.5 422v2M751.5 419v3M752.5 417v2M753.5 414v3M754.5 412v2M755.5 409v3M756.5 407v2M757.5 404v3M758.5 401v3M759.5 398v3M760.5 395v3M761.5 392v3M762.5 389v3M763.5 386v3M764.5 383v3M765.5 380v3M766.5 377v3M767.5 374v3M768.5 371v3M769.5 369v2M770.5 366v3M771.5 363v3M772.5 360v3M773.5 357v3M774.5 355v2M775.5 352v3M776.5 350v2M777.5 347v3M778.5 345v2M779.5 342v3M780.5 340v2M781.5 338v2M782.5 336v2M783.5 334v2M784 333.5h1M785.5 331v2M786 330.5h1M787.5 328v2M788.5 326v2M789 325.5h1M790 324.5h1M791.5 322v2M792 321.5h1M793 320.5h1M794 319.5h1M795.5 317v2M796 316.5h1M797 315.5h1M798 314.5h2M800 313.5h2M802 312.5h1M803 311.5h2M805 310.5h2M807 309.5h3M810 308.5h2M812 307.5h6M818 308.5h4M822 309.5h2M824 310.5h2M826 311.5h1M827 312.5h2M829 313.5h1M830.5 314v2M831.5 316v2M832.5 318v2M833.5 320v2M834.5 322v2M835.5 324v2M836.5 326v2M837.5 328v2M838.5 330v2M839.5 332v2M840.5 334v2M841.5 336v2M842.5 338v2M843.5 340v2M844.5 342v2M845.5 344v3M846.5 347v2M847.5 349v2M848.5 351v2M849.5 353v3M850.5 356v2M851.5 358v2M852.5 360v2M853.5 362v3M854.5 365v2M855.5 367v2M856.5 369v2M857.5 371v3M858.5 374v2M859.5 376v2M860.5 378v2M861.5 380v2M862.5 382v2M863.5 384v2M864.5 386v2M865.5 388v2M866.5 390v2M867.5 392v2M868.5 394v2M869.5 396v2M870.5 398v2M871.5 400v2M872.5 402v2M873.5 404v2M874.5 406v2M875.5 408v2M876.5 410v2M877 412.5h1M878.5 413v2M879.5 415v2M880 417.5h1M881.5 418v2M882 420.5h1M883.5 421v2M884.5 423v2M885 425.5h1M886 426.5h2M888 427.5h2M890 428.5h1M891 429.5h2M893 430.5h5M898 431.5h5M903 432.5h3M906 433.5h2M908 434.5h2M910.5 435v2M911 437.5h1M912 438.5h1M913.5 439v2M914 441.5h1M915 442.5h1M916.5 443v2M917 445.5h1M918.5 446v2M919.5 448v2M920.5 450v2M921.5 452v2M922.5 454v2M923.5 456v2M924.5 458v2M925 460.5h3M928 461.5h4M932 462.5h3M935 461.5h3M938 460.5h2M940 459.5h10M950 460.5h2M952 461.5h2M954 462.5h1M955 463.5h2M957 464.5h2M959 465.5h2M961 466.5h2M963 467.5h2M965 468.5h2M967 467.5h3M970 466.5h2M972 465.5h2M974 464.5h1M975 463.5h1M976 462.5h1M977.5 460v2M978 459.5h1M979 458.5h1M980 457.5h1M981 456.5h1M982 455.5h1M983 454.5h1M984 453.5h1M985.5 451v2M986 450.5h1M987 449.5h1M988 448.5h1M989 447.5h1M990 446.5h2M992 445.5h2M994 444.5h1M995 443.5h2M997 442.5h3M1000 441.5h4M1004 440.5h2M1006 439.5h2M1008 438.5h2M1010 437.5h1M1011 436.5h2M1013 435.5h1M1014 434.5h2M1016 433.5h2M1018 432.5h1M1019 431.5h2M1021 430.5h1M1022.5 428v2M1023.5 426v2M1024.5 424v2M1025.5 422v2M1026.5 420v2M1027.5 418v2M1028.5 416v2M1029.5 414v2M1030.5 412v2M1031.5 410v2M1032.5 408v2M1033.5 406v2M1034.5 404v2M1035.5 402v2M1036.5 400v2M1037.5 398v2M1038 397.5h1M1039.5 395v2M1040 394.5h1M1041 393.5h1M1042 392.5h1M1043.5 390v2M1044 389.5h1M1045 388.5h1M1046.5 386v2M1047 385.5h1M1048.5 383v2M1049 382.5h1M1050.5 380v2M1051 379.5h1M1052.5 377v2M1053.5 375v2M1054.5 373v2M1055.5 371v2M1056.5 369v2M1057.5 367v2M1058.5 365v2M1059.5 363v2M1060.5 361v2M1061.5 359v2M1062.5 357v2M1063.5 355v2M1064.5 353v2M1065.5 351v2M1066.5 349v2M1067.5 347v2M1068.5 345v2M1069 344.5h1M1070 343.5h1M1071.5 341v2M1072 340.5h1M1073 339.5h1M1074 338.5h1M1075.5 336v2M1076 335.5h1M1077 334.5h5M1082 335.5h4M1086 336.5h2M1088 337.5h2M1090 338.5h1M1091 339.5h2M1093 340.5h3M1096 341.5h4M1100 342.5h3M1103 343.5h3M1106 344.5h2M1108 345.5h9" fill="none" stroke="#0000cd" stroke-width="1"/>
<rect x="5" y="23" width="1416" height="3" fill="#ff0000"/>
<rect x="5" y="145" width="1416" height="3" fill="#ff0000"/>
<rect x="5" y="266" width="1416" height="3" fill="#ff0000"/>
<rect x="5" y="386" width="1416" height="3" fill="#00ff00"/>
<rect x="5" y="545" width="1416" height="3" fill="#0000ff"/>
</g>
<rect x="1421" y="23" width="1" height="3" fill="#ff0000"/>
<rect x="1421" y="145" width="1" height="3" fill="#ff0000"/>
<rect x="1421" y="266" width="1" height="3" fill="#ff0000"/>
<rect x="4" y="264" width="7" height="7" fill="#ff0000"/>
<rect x="7" y="267" width="1" height="1" fill="#fff"/>
<rect x="1414" y="264" width="7" height="7" fill="#ff0000"/>
<rect x="1417" y="267" width="1" height="1" fill="#fff"/>
<rect x="1421" y="386" width="1" height="3" fill="#00ff00"/>
<rect x="4" y="384" width="7" height="7" fill="#00ff00"/>
<rect x="7" y="387" width="1" height="1" fill="#fff"/>
<rect x="1414" y="384" width="7" height="7" fill="#00ff00"/>
<rect x="1417" y="387" width="1" height="1" fill="#fff"/>
<rect x="1421" y="545" width="1" height="3" fill="#0000ff"/>
<rect x="4" y="543" width="7" height="7" fill="#0000ff"/>
<rect x="7" y="546" width="1" height="1" fill="#fff"/>
<rect x="1414" y="543" width="7" height="7" fill="#0000ff"/>
<rect x="1417" y="546" width="1" height="1" fill="#fff"/>
<rect x="1131" y="22" width="9" height="1" fill="#c0c0c0"/>
<rect x="1132" y="23" width="7" height="1" fill="#c0c0c0"/>
<rect x="1133" y="24" width="5" height="1" fill="#c0c0c0"/>
<rect x="1134" y="25" width="3" height="1" fill="#c0c0c0"/>
<rect x="1135" y="26" width="1" height="1" fill="#c0c0c0"/>
<g shape-rendering="auto" text-rendering="geometricPrecision">
<rect x="1421" y="30" width="2" height="1" fill="#000" shape-rendering="crispEdges"/>
<text x="1426" y="34" font-size="9.6" fill="#000" textLength="33" lengthAdjust="spacingAndGlyphs">0.70955</text>
<rect x="1421" y="63" width="2" height="1" fill="#000" shape-rendering="crispEdges"/>
<text x="1426" y="67" font-size="9.6" fill="#000" textLength="33" lengthAdjust="spacingAndGlyphs">0.70685</text>
<rect x="1421" y="96" width="2" height="1" fill="#000" shape-rendering="crispEdges"/>
<text x="1426" y="100" font-size="9.6" fill="#000" textLength="33" lengthAdjust="spacingAndGlyphs">0.70415</text>
<rect x="1421" y="129" width="2" height="1" fill="#000" shape-rendering="crispEdges"/>
<text x="1426" y="133" font-size="9.6" fill="#000" textLength="33" lengthAdjust="spacingAndGlyphs">0.70140</text>
<rect x="1421" y="162" width="2" height="1" fill="#000" shape-rendering="crispEdges"/>
<text x="1426" y="166" font-size="9.6" fill="#000" textLength="33" lengthAdjust="spacingAndGlyphs">0.69870</text>
<rect x="1421" y="195" width="2" height="1" fill="#000" shape-rendering="crispEdges"/>
<text x="1426" y="199" font-size="9.6" fill="#000" textLength="33" lengthAdjust="spacingAndGlyphs">0.69600</text>
<rect x="1421" y="228" width="2" height="1" fill="#000" shape-rendering="crispEdges"/>
<text x="1426" y="232" font-size="9.6" fill="#000" textLength="33" lengthAdjust="spacingAndGlyphs">0.69325</text>
<rect x="1421" y="261" width="2" height="1" fill="#000" shape-rendering="crispEdges"/>
<text x="1426" y="265" font-size="9.6" fill="#000" textLength="33" lengthAdjust="spacingAndGlyphs">0.69055</text>
<rect x="1421" y="294" width="2" height="1" fill="#000" shape-rendering="crispEdges"/>
<text x="1426" y="298" font-size="9.6" fill="#000" textLength="33" lengthAdjust="spacingAndGlyphs">0.68785</text>
<rect x="1421" y="327" width="2" height="1" fill="#000" shape-rendering="crispEdges"/>
<text x="1426" y="331" font-size="9.6" fill="#000" textLength="33" lengthAdjust="spacingAndGlyphs">0.68510</text>
<rect x="1421" y="360" width="2" height="1" fill="#000" shape-rendering="crispEdges"/>
<text x="1426" y="364" font-size="9.6" fill="#000" textLength="33" lengthAdjust="spacingAndGlyphs">0.68240</text>
<rect x="1421" y="393" width="2" height="1" fill="#000" shape-rendering="crispEdges"/>
<text x="1426" y="397" font-size="9.6" fill="#000" textLength="33" lengthAdjust="spacingAndGlyphs">0.67970</text>
<rect x="1421" y="426" width="2" height="1" fill="#000" shape-rendering="crispEdges"/>
<text x="1426" y="430" font-size="9.6" fill="#000" textLength="33" lengthAdjust="spacingAndGlyphs">0.67695</text>
<rect x="1421" y="459" width="2" height="1" fill="#000" shape-rendering="crispEdges"/>
<text x="1426" y="463" font-size="9.6" fill="#000" textLength="33" lengthAdjust="spacingAndGlyphs">0.67425</text>
<rect x="1421" y="492" width="2" height="1" fill="#000" shape-rendering="crispEdges"/>
<text x="1426" y="496" font-size="9.6" fill="#000" textLength="33" lengthAdjust="spacingAndGlyphs">0.67150</text>
<rect x="1421" y="525" width="2" height="1" fill="#000" shape-rendering="crispEdges"/>
<text x="1426" y="529" font-size="9.6" fill="#000" textLength="33" lengthAdjust="spacingAndGlyphs">0.66880</text>
<rect x="1421" y="558" width="2" height="1" fill="#000" shape-rendering="crispEdges"/>
<text x="1426" y="562" font-size="9.6" fill="#000" textLength="33" lengthAdjust="spacingAndGlyphs">0.66610</text>
<rect x="1422" y="19" width="41" height="10" fill="#ff0000" shape-rendering="crispEdges"/>
<text x="1426" y="27" font-size="9.6" fill="#fff" textLength="33" lengthAdjust="spacingAndGlyphs">0.71005</text>
<rect x="1422" y="140" width="41" height="11" fill="#ff0000" shape-rendering="crispEdges"/>
<text x="1426" y="149" font-size="9.6" fill="#fff" textLength="33" lengthAdjust="spacingAndGlyphs">0.70002</text>
<rect x="1422" y="261" width="41" height="11" fill="#ff0000" shape-rendering="crispEdges"/>
<text x="1426" y="270" font-size="9.6" fill="#fff" textLength="33" lengthAdjust="spacingAndGlyphs">0.69003</text>
<rect x="1422" y="312" width="41" height="11" fill="#000000" shape-rendering="crispEdges"/>
<text x="1426" y="321" font-size="9.6" fill="#fff" textLength="33" lengthAdjust="spacingAndGlyphs">0.68594</text>
<rect x="1422" y="381" width="41" height="11" fill="#00ff00" shape-rendering="crispEdges"/>
<text x="1426" y="390" font-size="9.6" fill="#fff" textLength="33" lengthAdjust="spacingAndGlyphs">0.68015</text>
<rect x="1422" y="540" width="41" height="11" fill="#0000ff" shape-rendering="crispEdges"/>
<text x="1426" y="549" font-size="9.6" fill="#fff" textLength="33" lengthAdjust="spacingAndGlyphs">0.66705</text>
<rect x="1421" y="565" width="1" height="1" fill="#000" shape-rendering="crispEdges"/>
<rect x="1421" y="594" width="1" height="1" fill="#000" shape-rendering="crispEdges"/>
<rect x="1421" y="666" width="1" height="1" fill="#000" shape-rendering="crispEdges"/>
<text x="1424" y="574" font-size="9.6" fill="#000" textLength="38" lengthAdjust="spacingAndGlyphs">0.002574</text>
<text x="1424" y="598" font-size="9.6" fill="#000" textLength="18" lengthAdjust="spacingAndGlyphs">0.00</text>
<text x="1424" y="664" font-size="9.6" fill="#000" textLength="41" lengthAdjust="spacingAndGlyphs">-0.006326</text>
<rect x="1421" y="671" width="1" height="1" fill="#000" shape-rendering="crispEdges"/>
<rect x="1421" y="709" width="1" height="1" fill="#000" shape-rendering="crispEdges"/>
<rect x="1421" y="760" width="1" height="1" fill="#000" shape-rendering="crispEdges"/>
<rect x="1421" y="798" width="1" height="1" fill="#000" shape-rendering="crispEdges"/>
<text x="1424" y="680" font-size="9.6" fill="#000" textLength="15" lengthAdjust="spacingAndGlyphs">100</text>
<text x="1424" y="713" font-size="9.6" fill="#000" textLength="10" lengthAdjust="spacingAndGlyphs">70</text>
<text x="1424" y="764" font-size="9.6" fill="#000" textLength="10" lengthAdjust="spacingAndGlyphs">30</text>
<text x="1424" y="796" font-size="9.6" fill="#000" textLength="5" lengthAdjust="spacingAndGlyphs">0</text>
<text x="20.5" y="33" font-size="9.6" fill="#000" textLength="68" lengthAdjust="spacingAndGlyphs">AUDUSD-,Daily</text>
<text x="94.7" y="33" font-size="9.6" fill="#000" textLength="141" lengthAdjust="spacingAndGlyphs">0.68555 0.68707 0.68477 0.68594</text>
<text x="9" y="576" font-size="9.6" fill="#000" textLength="65" lengthAdjust="spacingAndGlyphs">MACD(12,26,9)</text>
<text x="78.7" y="576" font-size="9.6" fill="#000" textLength="78.5" lengthAdjust="spacingAndGlyphs">0.001910 0.001764</text>
<text x="9.3" y="682" font-size="9.6" fill="#000" textLength="31" lengthAdjust="spacingAndGlyphs">RSI(14)</text>
<text x="43.8" y="682" font-size="9.6" fill="#000" textLength="33" lengthAdjust="spacingAndGlyphs">60.6593</text>
</g>
<polygon points="8,32.5 15.5,32.5 11.75,27.5" fill="#000" shape-rendering="auto"/>
<g clip-path="url(#cmacd)">
<rect x="5" y="594" width="1" height="54" fill="#c0c0c0"/>
<rect x="13" y="594" width="1" height="56" fill="#c0c0c0"/>
<rect x="21" y="594" width="1" height="54" fill="#c0c0c0"/>
<rect x="29" y="594" width="1" height="49" fill="#c0c0c0"/>
<rect x="37" y="594" width="1" height="44" fill="#c0c0c0"/>
<rect x="45" y="594" width="1" height="41" fill="#c0c0c0"/>
<rect x="53" y="594" width="1" height="38" fill="#c0c0c0"/>
<rect x="61" y="594" width="1" height="36" fill="#c0c0c0"/>
<rect x="69" y="594" width="1" height="34" fill="#c0c0c0"/>
<rect x="77" y="594" width="1" height="30" fill="#c0c0c0"/>
<rect x="85" y="594" width="1" height="27" fill="#c0c0c0"/>
<rect x="93" y="594" width="1" height="21" fill="#c0c0c0"/>
<rect x="101" y="594" width="1" height="14" fill="#c0c0c0"/>
<rect x="109" y="594" width="1" height="10" fill="#c0c0c0"/>
<rect x="117" y="594" width="1" height="7" fill="#c0c0c0"/>
<rect x="125" y="594" width="1" height="1" fill="#c0c0c0"/>
<rect x="133" y="594" width="1" height="1" fill="#c0c0c0"/>
<rect x="141" y="594" width="1" height="1" fill="#c0c0c0"/>
<rect x="149" y="594" width="1" height="1" fill="#c0c0c0"/>
<rect x="157" y="594" width="1" height="1" fill="#c0c0c0"/>
<rect x="165" y="594" width="1" height="5" fill="#c0c0c0"/>
<rect x="173" y="594" width="1" height="13" fill="#c0c0c0"/>
<rect x="181" y="594" width="1" height="17" fill="#c0c0c0"/>
<rect x="189" y="594" width="1" height="23" fill="#c0c0c0"/>
<rect x="197" y="594" width="1" height="24" fill="#c0c0c0"/>
<rect x="205" y="594" width="1" height="25" fill="#c0c0c0"/>
<rect x="213" y="594" width="1" height="22" fill="#c0c0c0"/>
<rect x="221" y="594" width="1" height="17" fill="#c0c0c0"/>
<rect x="229" y="594" width="1" height="14" fill="#c0c0c0"/>
<rect x="237" y="594" width="1" height="9" fill="#c0c0c0"/>
<rect x="245" y="594" width="1" height="5" fill="#c0c0c0"/>
<rect x="253" y="594" width="1" height="1" fill="#c0c0c0"/>
<rect x="261" y="588" width="1" height="7" fill="#c0c0c0"/>
<rect x="269" y="582" width="1" height="13" fill="#c0c0c0"/>
<rect x="277" y="578" width="1" height="17" fill="#c0c0c0"/>
<rect x="285" y="579" width="1" height="16" fill="#c0c0c0"/>
<rect x="293" y="578" width="1" height="17" fill="#c0c0c0"/>
<rect x="301" y="574" width="1" height="21" fill="#c0c0c0"/>
<rect x="309" y="572" width="1" height="23" fill="#c0c0c0"/>
<rect x="317" y="574" width="1" height="21" fill="#c0c0c0"/>
<rect x="325" y="577" width="1" height="18" fill="#c0c0c0"/>
<rect x="333" y="579" width="1" height="16" fill="#c0c0c0"/>
<rect x="341" y="585" width="1" height="10" fill="#c0c0c0"/>
<rect x="349" y="588" width="1" height="7" fill="#c0c0c0"/>
<rect x="357" y="588" width="1" height="7" fill="#c0c0c0"/>
<rect x="365" y="585" width="1" height="10" fill="#c0c0c0"/>
<rect x="373" y="582" width="1" height="13" fill="#c0c0c0"/>
<rect x="381" y="578" width="1" height="17" fill="#c0c0c0"/>
<rect x="389" y="577" width="1" height="18" fill="#c0c0c0"/>
<rect x="397" y="577" width="1" height="18" fill="#c0c0c0"/>
<rect x="405" y="572" width="1" height="23" fill="#c0c0c0"/>
<rect x="413" y="571" width="1" height="24" fill="#c0c0c0"/>
<rect x="421" y="570" width="1" height="25" fill="#c0c0c0"/>
<rect x="429" y="571" width="1" height="24" fill="#c0c0c0"/>
<rect x="437" y="575" width="1" height="20" fill="#c0c0c0"/>
<rect x="445" y="580" width="1" height="15" fill="#c0c0c0"/>
<rect x="453" y="587" width="1" height="8" fill="#c0c0c0"/>
<rect x="461" y="594" width="1" height="1" fill="#c0c0c0"/>
<rect x="469" y="594" width="1" height="8" fill="#c0c0c0"/>
<rect x="477" y="594" width="1" height="15" fill="#c0c0c0"/>
<rect x="485" y="594" width="1" height="22" fill="#c0c0c0"/>
<rect x="493" y="594" width="1" height="30" fill="#c0c0c0"/>
<rect x="501" y="594" width="1" height="39" fill="#c0c0c0"/>
<rect x="509" y="594" width="1" height="47" fill="#c0c0c0"/>
<rect x="517" y="594" width="1" height="53" fill="#c0c0c0"/>
<rect x="525" y="594" width="1" height="60" fill="#c0c0c0"/>
<rect x="533" y="594" width="1" height="65" fill="#c0c0c0"/>
<rect x="541" y="594" width="1" height="68" fill="#c0c0c0"/>
<rect x="549" y="594" width="1" height="65" fill="#c0c0c0"/>
<rect x="557" y="594" width="1" height="63" fill="#c0c0c0"/>
<rect x="565" y="594" width="1" height="63" fill="#c0c0c0"/>
<rect x="573" y="594" width="1" height="64" fill="#c0c0c0"/>
<rect x="581" y="594" width="1" height="60" fill="#c0c0c0"/>
<rect x="589" y="594" width="1" height="59" fill="#c0c0c0"/>
<rect x="597" y="594" width="1" height="57" fill="#c0c0c0"/>
<rect x="605" y="594" width="1" height="55" fill="#c0c0c0"/>
<rect x="613" y="594" width="1" height="51" fill="#c0c0c0"/>
<rect x="621" y="594" width="1" height="51" fill="#c0c0c0"/>
<rect x="629" y="594" width="1" height="48" fill="#c0c0c0"/>
<rect x="637" y="594" width="1" height="44" fill="#c0c0c0"/>
<rect x="645" y="594" width="1" height="43" fill="#c0c0c0"/>
<rect x="653" y="594" width="1" height="43" fill="#c0c0c0"/>
<rect x="661" y="594" width="1" height="46" fill="#c0c0c0"/>
<rect x="669" y="594" width="1" height="42" fill="#c0c0c0"/>
<rect x="677" y="594" width="1" height="40" fill="#c0c0c0"/>
<rect x="685" y="594" width="1" height="39" fill="#c0c0c0"/>
<rect x="693" y="594" width="1" height="39" fill="#c0c0c0"/>
<rect x="701" y="594" width="1" height="38" fill="#c0c0c0"/>
<rect x="709" y="594" width="1" height="37" fill="#c0c0c0"/>
<rect x="717" y="594" width="1" height="37" fill="#c0c0c0"/>
<rect x="725" y="594" width="1" height="34" fill="#c0c0c0"/>
<rect x="733" y="594" width="1" height="27" fill="#c0c0c0"/>
<rect x="741" y="594" width="1" height="19" fill="#c0c0c0"/>
<rect x="749" y="594" width="1" height="10" fill="#c0c0c0"/>
<rect x="757" y="594" width="1" height="2" fill="#c0c0c0"/>
<rect x="765" y="590" width="1" height="5" fill="#c0c0c0"/>
<rect x="773" y="585" width="1" height="10" fill="#c0c0c0"/>
<rect x="781" y="580" width="1" height="15" fill="#c0c0c0"/>
<rect x="789" y="577" width="1" height="18" fill="#c0c0c0"/>
<rect x="797" y="573" width="1" height="22" fill="#c0c0c0"/>
<rect x="805" y="571" width="1" height="24" fill="#c0c0c0"/>
<rect x="813" y="571" width="1" height="24" fill="#c0c0c0"/>
<rect x="821" y="570" width="1" height="25" fill="#c0c0c0"/>
<rect x="829" y="574" width="1" height="21" fill="#c0c0c0"/>
<rect x="837" y="581" width="1" height="14" fill="#c0c0c0"/>
<rect x="845" y="588" width="1" height="7" fill="#c0c0c0"/>
<rect x="853" y="594" width="1" height="1" fill="#c0c0c0"/>
<rect x="861" y="594" width="1" height="2" fill="#c0c0c0"/>
<rect x="869" y="594" width="1" height="4" fill="#c0c0c0"/>
<rect x="877" y="594" width="1" height="8" fill="#c0c0c0"/>
<rect x="885" y="594" width="1" height="12" fill="#c0c0c0"/>
<rect x="893" y="594" width="1" height="14" fill="#c0c0c0"/>
<rect x="901" y="594" width="1" height="15" fill="#c0c0c0"/>
<rect x="909" y="594" width="1" height="17" fill="#c0c0c0"/>
<rect x="917" y="594" width="1" height="22" fill="#c0c0c0"/>
<rect x="925" y="594" width="1" height="26" fill="#c0c0c0"/>
<rect x="933" y="594" width="1" height="24" fill="#c0c0c0"/>
<rect x="941" y="594" width="1" height="22" fill="#c0c0c0"/>
<rect x="949" y="594" width="1" height="19" fill="#c0c0c0"/>
<rect x="957" y="594" width="1" height="21" fill="#c0c0c0"/>
<rect x="965" y="594" width="1" height="22" fill="#c0c0c0"/>
<rect x="973" y="594" width="1" height="23" fill="#c0c0c0"/>
<rect x="981" y="594" width="1" height="20" fill="#c0c0c0"/>
<rect x="989" y="594" width="1" height="14" fill="#c0c0c0"/>
<rect x="997" y="594" width="1" height="9" fill="#c0c0c0"/>
<rect x="1005" y="594" width="1" height="7" fill="#c0c0c0"/>
<rect x="1013" y="594" width="1" height="8" fill="#c0c0c0"/>
<rect x="1021" y="594" width="1" height="8" fill="#c0c0c0"/>
<rect x="1029" y="594" width="1" height="1" fill="#c0c0c0"/>
<rect x="1037" y="589" width="1" height="6" fill="#c0c0c0"/>
<rect x="1045" y="584" width="1" height="11" fill="#c0c0c0"/>
<rect x="1053" y="577" width="1" height="18" fill="#c0c0c0"/>
<rect x="1061" y="574" width="1" height="21" fill="#c0c0c0"/>
<rect x="1069" y="572" width="1" height="23" fill="#c0c0c0"/>
<rect x="1077" y="574" width="1" height="21" fill="#c0c0c0"/>
<rect x="1085" y="576" width="1" height="19" fill="#c0c0c0"/>
<rect x="1093" y="578" width="1" height="17" fill="#c0c0c0"/>
<rect x="1101" y="577" width="1" height="18" fill="#c0c0c0"/>
<rect x="1109" y="575" width="1" height="20" fill="#c0c0c0"/>
<rect x="1117" y="573" width="1" height="22" fill="#c0c0c0"/>
<path d="M5 642.5h2M7 643.5h1M11 644.5h1M12 645.5h2M17 646.5h3M23 647.5h3M29 647.5h3M35 647.5h3M41 647.5h1M42 646.5h2M47 646.5h1M48 645.5h2M53 644.5h2M55 643.5h1M59 642.5h1M60 641.5h2M65 640.5h1M66 639.5h2M71 638.5h3M77 637.5h2M79 636.5h1M83 634.5h2M85 633.5h1M89 631.5h2M91 630.5h1M95 628.5h3M101 626.5h2M103 625.5h1M107 623.5h2M109 622.5h1M113 620.5h2M115 619.5h1M119 617.5h2M121 616.5h1M125 614.5h2M127 613.5h1M131 611.5h2M133 610.5h1M137 608.5h2M139 607.5h1M143 605.5h3M149 603.5h2M151 602.5h1M155 600.5h2M157 599.5h1M161 599.5h1M162 598.5h2M167 598.5h3M173 598.5h3M179 598.5h3M185 599.5h3M191 600.5h1M192 601.5h2M197 602.5h1M198 603.5h2M203 606.5h2M205 607.5h1M209 608.5h3M215 609.5h1M216 610.5h2M221 611.5h3M227 612.5h3M233 612.5h1M234 613.5h2M239 613.5h1M240 612.5h2M245 611.5h3M251 610.5h3M257 608.5h2M259 607.5h1M263 605.5h2M265 604.5h1M269 602.5h1M270 601.5h2M275 598.5h2M277 597.5h1M281 595.5h2M283 594.5h1M287 592.5h1M288 591.5h2M293 588.5h2M295 587.5h1M299 586.5h1M300 585.5h2M305 584.5h1M306 583.5h2M311 581.5h3M317 579.5h3M323 578.5h1M324 577.5h2M329 577.5h1M330 576.5h2M335 576.5h3M341 576.5h3M347 577.5h3M353 577.5h1M354 578.5h2M359 578.5h3M365 579.5h3M371 580.5h3M377 580.5h1M378 581.5h2M383 581.5h3M389 581.5h3M395 581.5h3M401 581.5h1M402 580.5h2M407 580.5h1M408 579.5h2M413 578.5h3M419 577.5h3M425 576.5h3M431 575.5h3M437 574.5h3M443 574.5h3M449 574.5h1M450 575.5h2M455 576.5h3M461 578.5h3M467 579.5h1M468 580.5h2M473 582.5h1M474 583.5h1M475 584.5h1M479 586.5h1M480 587.5h2M485 590.5h1M486 591.5h2M491 594.5h2M493 595.5h1M497 598.5h1M498 599.5h1M499 600.5h1M503 604.5h1M504 605.5h2M509 609.5h1M510 610.5h1M511 611.5h1M515 614.5h1M516 615.5h1M517 616.5h1M521.5 620v2M522 622.5h1M526 626.5h1M527 627.5h1M528 628.5h1M532 631.5h1M533 632.5h1M534 633.5h1M538 636.5h2M540 637.5h1M544 640.5h1M545 641.5h1M546 642.5h1M550 644.5h1M551 645.5h2M556 647.5h1M557 648.5h2M562 650.5h1M563 651.5h2M568 653.5h2M570 654.5h1M574 655.5h3M580 656.5h3M586 657.5h3M592 657.5h3M598 657.5h3M604 656.5h3M610 655.5h2M612 654.5h1M616 653.5h3M622 652.5h3M628 651.5h3M634 649.5h2M636 648.5h1M640 647.5h2M642 646.5h1M646 645.5h3M652 644.5h3M658 643.5h3M664 642.5h2M666 641.5h1M670 640.5h3M676 639.5h3M682 638.5h3M688 638.5h2M690 637.5h1M694 637.5h3M700 636.5h3M706 635.5h3M712 635.5h2M714 634.5h1M718 634.5h2M720 633.5h1M724 632.5h3M730 631.5h2M732 630.5h1M736 629.5h3M742 628.5h1M743 627.5h2M748 625.5h3M754 623.5h2M756 622.5h1M760 620.5h2M762 619.5h1M766 616.5h2M768 615.5h1M772 612.5h1M773 611.5h1M774 610.5h1M778 607.5h2M780 606.5h1M784 603.5h1M785 602.5h1M786 601.5h1M790 598.5h2M792 597.5h1M796 594.5h1M797 593.5h1M798 592.5h1M802 589.5h2M804 588.5h1M808 585.5h2M810 584.5h1M814 582.5h1M815 581.5h2M820 579.5h1M821 578.5h2M826 576.5h2M828 575.5h1M832 575.5h3M838 575.5h3M844 575.5h3M850 577.5h2M852 578.5h1M856 578.5h2M858 579.5h1M862 579.5h1M863 580.5h2M868 582.5h3M874 584.5h2M876 585.5h1M880 586.5h1M881 587.5h2M886 590.5h2M888 591.5h1M892 593.5h1M893 594.5h2M898 596.5h1M899 597.5h2M904 599.5h1M905 600.5h2M910 602.5h2M912 603.5h1M916 604.5h3M922 606.5h1M923 607.5h2M928 609.5h3M934 610.5h1M935 611.5h2M940 613.5h3M946 613.5h3M952 613.5h2M954 614.5h1M958 614.5h3M964 615.5h3M970 616.5h3M976 616.5h3M982 616.5h3M988 615.5h3M994 614.5h3M1000 613.5h3M1006 612.5h2M1008 611.5h1M1012 610.5h3M1018 609.5h3M1024 608.5h3M1030 607.5h1M1031 606.5h2M1036 604.5h1M1037 603.5h2M1042 601.5h1M1043 600.5h2M1048 598.5h1M1049 597.5h2M1054 595.5h1M1055 594.5h2M1060 592.5h3M1066 590.5h1M1067 589.5h2M1072 587.5h2M1074 586.5h1M1078 585.5h2M1080 584.5h1M1084 583.5h3M1090 581.5h1M1091 580.5h2M1096 578.5h3M1102 577.5h2M1104 576.5h1M1108 575.5h3M1114 574.5h3" fill="none" stroke="#ff0000" stroke-width="1"/>
</g>
<rect x="221" y="565" width="1" height="5" fill="#ff0000"/>
<g clip-path="url(#crsi)">
<line x1="6" x2="1420" y1="709.5" y2="709.5" stroke="#c0c0c0" stroke-width="1" stroke-dasharray="3 3"/>
<line x1="6" x2="1420" y1="760.5" y2="760.5" stroke="#c0c0c0" stroke-width="1" stroke-dasharray="3 3"/>
<path d="M5 756.5h5M10 757.5h4M14 756.5h2M16 755.5h1M17 754.5h1M18 753.5h2M20 752.5h1M21 751.5h1M22 750.5h1M23 749.5h1M24 748.5h1M25.5 746v2M26 745.5h1M27 744.5h1M28 743.5h1M29 742.5h5M34 743.5h6M40 744.5h4M44 745.5h4M48 744.5h4M52 743.5h4M56 744.5h4M60 745.5h3M63 746.5h3M66 747.5h2M68 748.5h2M70 747.5h1M71.5 745v2M72 744.5h1M73 743.5h1M74 742.5h1M75.5 740v2M76 739.5h1M77 738.5h3M80 739.5h4M84 740.5h2M86 739.5h1M87.5 737v2M88 736.5h1M89 735.5h1M90 734.5h1M91.5 732v2M92 731.5h1M93 730.5h1M94 729.5h2M96 728.5h2M98 727.5h1M99 726.5h2M101 725.5h1M102 726.5h2M104 727.5h1M105 728.5h1M106 729.5h2M108 730.5h1M109 731.5h5M114 730.5h4M118 729.5h1M119 728.5h1M120 727.5h2M122 726.5h1M123 725.5h1M124 724.5h1M125 723.5h2M127 724.5h2M129 725.5h2M131 726.5h2M133 727.5h1M134 728.5h1M135 729.5h1M136 730.5h1M137 731.5h1M138 732.5h1M139 733.5h1M140 734.5h1M141 735.5h9M150 736.5h1M151 737.5h1M152 738.5h2M154 739.5h1M155 740.5h1M156 741.5h1M157 742.5h2M159 743.5h2M161 744.5h2M163 745.5h2M165 746.5h1M166 747.5h1M167 748.5h1M168 749.5h1M169 750.5h1M170 751.5h1M171 752.5h1M172 753.5h1M173 754.5h2M175 753.5h2M177 752.5h2M179 751.5h2M181 750.5h1M182 751.5h2M184 752.5h2M186 753.5h1M187 754.5h2M189 755.5h1M190 754.5h1M191 753.5h1M192 752.5h1M193.5 750v2M194 749.5h1M195 748.5h1M196 747.5h1M197 746.5h5M202 745.5h4M206 744.5h1M207 743.5h1M208 742.5h1M209.5 740v2M210 739.5h1M211 738.5h1M212 737.5h1M213 736.5h5M218 735.5h5M223 734.5h2M225 733.5h2M227 732.5h2M229 731.5h2M231 730.5h2M233 729.5h2M235 728.5h2M237 727.5h5M242 728.5h4M246 727.5h2M248 726.5h2M250 725.5h1M251 724.5h2M253 723.5h2M255 722.5h2M257 721.5h2M259 720.5h2M261 719.5h2M263 718.5h3M266 717.5h2M268 716.5h10M277 717.5h1M278.5 718v2M279.5 720v2M280.5 722v2M281.5 724v2M282.5 726v2M283.5 728v2M284.5 730v2M285 732.5h1M286 731.5h2M288 730.5h1M289 729.5h1M290 728.5h2M292 727.5h1M293 726.5h1M294 725.5h2M296 724.5h1M297 723.5h1M298 722.5h2M300 721.5h1M301 720.5h5M306 721.5h4M310.5 722v2M311 724.5h1M312 725.5h1M313.5 726v2M314 728.5h1M315 729.5h1M316.5 730v2M317 732.5h11M328 733.5h4M332 734.5h2M334 735.5h1M335 736.5h1M336 737.5h1M337.5 738v2M338 740.5h1M339 741.5h1M340 742.5h1M341 743.5h1M342 742.5h1M343 741.5h1M344 740.5h2M346 739.5h1M347 738.5h1M348 737.5h1M349 736.5h2M351 735.5h3M354 734.5h2M356 733.5h2M358 732.5h1M359 731.5h1M360 730.5h1M361.5 728v2M362 727.5h1M363 726.5h1M364 725.5h1M365 724.5h5M370 725.5h5M375 724.5h3M378 723.5h2M380 722.5h2M382 723.5h2M384 724.5h2M386 725.5h1M387 726.5h2M389 727.5h3M392 728.5h4M396 729.5h2M398 728.5h1M399.5 726v2M400 725.5h1M401 724.5h1M402 723.5h1M403.5 721v2M404 720.5h1M405 719.5h1M406 720.5h2M408 721.5h1M409 722.5h1M410 723.5h2M412 724.5h1M413 725.5h10M423 726.5h3M426 727.5h2M428 728.5h2M430 729.5h1M431 730.5h1M432 731.5h2M434 732.5h1M435 733.5h1M436 734.5h1M437 735.5h2M439 736.5h2M441 737.5h2M443 738.5h2M445 739.5h1M446 740.5h2M448 741.5h2M450 742.5h1M451 743.5h2M453 744.5h1M454 745.5h1M455 746.5h1M456 747.5h2M458 748.5h1M459 749.5h1M460 750.5h1M461 751.5h13M474 752.5h5M479 753.5h2M481 754.5h2M483 755.5h2M485 756.5h2M487 757.5h2M489 758.5h2M491 759.5h2M493 760.5h1M494 761.5h2M496 762.5h2M498 763.5h1M499 764.5h2M501 765.5h13M514 766.5h5M519 767.5h3M522 768.5h2M524 769.5h18M541 768.5h1M542.5 766v2M543.5 764v2M544.5 762v2M545.5 760v2M546.5 758v2M547.5 756v2M548.5 754v2M549.5 752v2M550 752.5h1M551 753.5h3M554 754.5h2M556 755.5h4M560 756.5h4M564 757.5h3M567 758.5h3M570 759.5h2M572 760.5h2M574.5 758v2M575 757.5h1M576.5 755v2M577 754.5h1M578.5 752v2M579 751.5h1M580.5 749v2M581 748.5h1M582 749.5h1M583 750.5h1M584 751.5h2M586 752.5h1M587 753.5h1M588 754.5h1M589 755.5h1M590 754.5h2M592 753.5h2M594 752.5h1M595 751.5h2M597 750.5h2M599 749.5h3M602 748.5h2M604 747.5h10M614 748.5h2M616 749.5h2M618 750.5h1M619 751.5h2M621 752.5h2M623 751.5h2M625 750.5h2M627 749.5h2M629 748.5h2M631 747.5h2M633 746.5h2M635 745.5h2M637 744.5h1M638 745.5h2M640 746.5h2M642 747.5h1M643 748.5h2M645 749.5h5M650 750.5h4M654 751.5h1M655 752.5h1M656 753.5h2M658 754.5h1M659 755.5h1M660 756.5h2M661 757.5h1M662.5 754v2M663.5 752v2M664.5 750v2M665.5 748v2M666.5 746v2M667.5 744v2M668.5 742v2M669 741.5h2M671 742.5h3M674 743.5h2M676 744.5h4M680 745.5h4M684 746.5h6M690 747.5h8M698 748.5h8M706 749.5h6M712 750.5h4M716 751.5h2M718.5 749v2M719.5 747v2M720 746.5h1M721.5 744v2M722 743.5h1M723.5 741v2M724.5 739v2M725 738.5h1M726 737.5h1M727 736.5h1M728 735.5h2M730 734.5h1M731 733.5h1M732 732.5h1M733 731.5h2M735 730.5h3M738 729.5h2M740 728.5h2M742 727.5h1M743 726.5h1M744 725.5h2M746 724.5h1M747 723.5h1M748 722.5h1M749 721.5h5M754 722.5h5M759 721.5h3M762 720.5h2M764 719.5h6M770 720.5h5M775 719.5h3M778 718.5h2M780 717.5h3M783 718.5h2M785 719.5h2M787 720.5h2M789 721.5h2M791 720.5h3M794 719.5h2M796 718.5h10M806 719.5h2M808 720.5h1M809 721.5h1M810 722.5h2M812 723.5h1M813 724.5h5M818 723.5h4M822.5 724v2M823 726.5h1M824.5 727v2M825 729.5h1M826.5 730v2M827 732.5h1M828.5 733v2M829 735.5h1M830 736.5h1M831 737.5h1M832 738.5h2M834 739.5h1M835 740.5h1M836 741.5h1M837 742.5h1M838 743.5h2M840 744.5h1M841 745.5h1M842 746.5h2M844 747.5h1M845 748.5h3M848 747.5h4M852 746.5h6M858 745.5h4M862 744.5h1M863 743.5h1M864 742.5h2M866 741.5h1M867 740.5h1M868 739.5h1M869 738.5h1M870 739.5h1M871 740.5h1M872 741.5h1M873.5 742v2M874 744.5h1M875 745.5h1M876 746.5h1M877 747.5h11M888 746.5h4M892 745.5h12M904 746.5h4M908 747.5h2M910 748.5h1M911 749.5h1M912 750.5h1M913.5 751v2M914 753.5h1M915 754.5h1M916 755.5h1M917 756.5h9M926.5 754v2M927 753.5h1M928.5 751v2M929 750.5h1M930.5 748v2M931 747.5h1M932.5 745v2M933 744.5h1M934 743.5h1M935 742.5h1M936 741.5h2M938 740.5h1M939 739.5h1M940 738.5h1M941 737.5h5M946 738.5h4M950 739.5h1M951 740.5h1M952 741.5h2M954 742.5h1M955 743.5h1M956 744.5h1M957 745.5h5M962 746.5h6M968 747.5h4M972 748.5h2M974.5 746v2M975 745.5h1M976.5 743v2M977 742.5h1M978.5 740v2M979 739.5h1M980.5 737v2M981 736.5h1M982 735.5h1M983 734.5h1M984 733.5h1M985.5 731v2M986 730.5h1M987 729.5h1M988 728.5h1M989 727.5h5M994 728.5h4M998 729.5h1M999 730.5h1M1000 731.5h2M1002 732.5h1M1003 733.5h1M1004 734.5h1M1005 735.5h2M1007 736.5h2M1009 737.5h2M1011 738.5h2M1013 739.5h5M1018 738.5h4M1022.5 736v2M1023.5 734v2M1024.5 732v2M1025.5 730v2M1026.5 728v2M1027.5 726v2M1028.5 724v2M1029 723.5h1M1030 722.5h2M1032 721.5h2M1034 720.5h1M1035 719.5h2M1037 718.5h3M1040 719.5h4M1044 720.5h3M1047 719.5h2M1049 718.5h2M1051 717.5h2M1053 716.5h2M1055 717.5h3M1058 718.5h2M1060 719.5h3M1063 720.5h3M1066 721.5h2M1068 722.5h2M1070 723.5h1M1071 724.5h1M1072 725.5h1M1073.5 726v2M1074 728.5h1M1075 729.5h1M1076 730.5h1M1077 731.5h5M1082 730.5h6M1088 729.5h4M1092 728.5h3M1095 727.5h3M1098 726.5h2M1100 725.5h3M1103 724.5h3M1106 723.5h2M1108 722.5h6M1114 721.5h3" fill="none" stroke="#1e90ff" stroke-width="1"/>
</g>
<g shape-rendering="auto" text-rendering="geometricPrecision">
<rect x="5" y="800" width="1" height="3" fill="#000" shape-rendering="crispEdges"/>
<text x="4" y="812" font-size="9.6" fill="#000" textLength="54.5" lengthAdjust="spacingAndGlyphs">21 May 2019</text>
<rect x="69" y="800" width="1" height="3" fill="#000" shape-rendering="crispEdges"/>
<text x="68" y="812" font-size="9.6" fill="#000" textLength="54.5" lengthAdjust="spacingAndGlyphs">30 May 2019</text>
<rect x="133" y="800" width="1" height="3" fill="#000" shape-rendering="crispEdges"/>
<text x="132" y="812" font-size="9.6" fill="#000" textLength="44" lengthAdjust="spacingAndGlyphs">9 Jun 2019</text>
<rect x="197" y="800" width="1" height="3" fill="#000" shape-rendering="crispEdges"/>
<text x="196" y="812" font-size="9.6" fill="#000" textLength="49" lengthAdjust="spacingAndGlyphs">18 Jun 2019</text>
<rect x="261" y="800" width="1" height="3" fill="#000" shape-rendering="crispEdges"/>
<text x="260" y="812" font-size="9.6" fill="#000" textLength="49" lengthAdjust="spacingAndGlyphs">27 Jun 2019</text>
<rect x="325" y="800" width="1" height="3" fill="#000" shape-rendering="crispEdges"/>
<text x="324" y="812" font-size="9.6" fill="#000" textLength="41" lengthAdjust="spacingAndGlyphs">7 Jul 2019</text>
<rect x="389" y="800" width="1" height="3" fill="#000" shape-rendering="crispEdges"/>
<text x="388" y="812" font-size="9.6" fill="#000" textLength="46" lengthAdjust="spacingAndGlyphs">16 Jul 2019</text>
<rect x="453" y="800" width="1" height="3" fill="#000" shape-rendering="crispEdges"/>
<text x="452" y="812" font-size="9.6" fill="#000" textLength="46" lengthAdjust="spacingAndGlyphs">25 Jul 2019</text>
<rect x="517" y="800" width="1" height="3" fill="#000" shape-rendering="crispEdges"/>
<text x="516" y="812" font-size="9.6" fill="#000" textLength="47.5" lengthAdjust="spacingAndGlyphs">4 Aug 2019</text>
<rect x="581" y="800" width="1" height="3" fill="#000" shape-rendering="crispEdges"/>
<text x="580" y="812" font-size="9.6" fill="#000" textLength="52.5" lengthAdjust="spacingAndGlyphs">13 Aug 2019</text>
<rect x="645" y="800" width="1" height="3" fill="#000" shape-rendering="crispEdges"/>
<text x="644" y="812" font-size="9.6" fill="#000" textLength="52.5" lengthAdjust="spacingAndGlyphs">22 Aug 2019</text>
<rect x="709" y="800" width="1" height="3" fill="#000" shape-rendering="crispEdges"/>
<text x="708" y="812" font-size="9.6" fill="#000" textLength="46" lengthAdjust="spacingAndGlyphs">1 Sep 2019</text>
<rect x="773" y="800" width="1" height="3" fill="#000" shape-rendering="crispEdges"/>
<text x="772" y="812" font-size="9.6" fill="#000" textLength="51.5" lengthAdjust="spacingAndGlyphs">10 Sep 2019</text>
<rect x="837" y="800" width="1" height="3" fill="#000" shape-rendering="crispEdges"/>
<text x="836" y="812" font-size="9.6" fill="#000" textLength="51.5" lengthAdjust="spacingAndGlyphs">19 Sep 2019</text>
<rect x="901" y="800" width="1" height="3" fill="#000" shape-rendering="crispEdges"/>
<text x="900" y="812" font-size="9.6" fill="#000" textLength="51.5" lengthAdjust="spacingAndGlyphs">29 Sep 2019</text>
<rect x="965" y="800" width="1" height="3" fill="#000" shape-rendering="crispEdges"/>
<text x="964" y="812" font-size="9.6" fill="#000" textLength="46" lengthAdjust="spacingAndGlyphs">8 Oct 2019</text>
<rect x="1029" y="800" width="1" height="3" fill="#000" shape-rendering="crispEdges"/>
<text x="1028" y="812" font-size="9.6" fill="#000" textLength="51" lengthAdjust="spacingAndGlyphs">17 Oct 2019</text>
<rect x="1093" y="800" width="1" height="3" fill="#000" shape-rendering="crispEdges"/>
<text x="1092" y="812" font-size="9.6" fill="#000" textLength="51" lengthAdjust="spacingAndGlyphs">27 Oct 2019</text>
</g>
<rect x="0" y="820" width="1463" height="1" fill="#e3e3e3"/>
<rect x="0" y="821" width="1463" height="1" fill="#ffffff"/>
<rect x="0" y="822" width="1463" height="16" fill="#f0f0f0"/>
<rect x="0" y="822" width="115" height="1" fill="#000"/>
<rect x="221" y="822" width="1242" height="1" fill="#000"/>
<rect x="115" y="821" width="106" height="17" fill="#fff"/>
<rect x="2" y="822" width="1" height="16" fill="#000"/>
<rect x="114" y="822" width="1" height="16" fill="#000"/>
<rect x="221" y="822" width="1" height="16" fill="#000"/>
<rect x="3" y="823" width="111" height="1" fill="#fff"/>
<rect x="3" y="823" width="1" height="15" fill="#fff"/>
<rect x="113" y="823" width="1" height="15" fill="#fafafa"/>
<g shape-rendering="auto" text-rendering="geometricPrecision">
<text x="17" y="837" font-size="12.4" fill="#7d7d7d" textLength="85" lengthAdjust="spacingAndGlyphs">EURUSD-,Daily</text>
<text x="124" y="837" font-size="12.4" fill="#000" textLength="87" lengthAdjust="spacingAndGlyphs">AUDUSD-,Daily</text>
<text x="234" y="837" font-size="12.4" fill="#7d7d7d" textLength="84" lengthAdjust="spacingAndGlyphs">USDCHF-,Daily</text>
<text x="341" y="837" font-size="12.4" fill="#7d7d7d" textLength="86" lengthAdjust="spacingAndGlyphs">USDCAD-,Daily</text>
<text x="450" y="837" font-size="12.4" fill="#7d7d7d" textLength="88" lengthAdjust="spacingAndGlyphs">USDCNH-,Daily</text>
<text x="561" y="837" font-size="12.4" fill="#7d7d7d" textLength="97" lengthAdjust="spacingAndGlyphs">EURCHF-,Weekly</text>
<text x="682" y="837" font-size="12.4" fill="#7d7d7d" textLength="100" lengthAdjust="spacingAndGlyphs">XAUUSD-,Weekly</text>
<text x="805" y="837" font-size="12.4" fill="#7d7d7d" textLength="73" lengthAdjust="spacingAndGlyphs">GBPUSD-,H1</text>
<text x="901" y="837" font-size="12.4" fill="#7d7d7d" textLength="56" lengthAdjust="spacingAndGlyphs">UKOil-,H1</text>
<text x="980" y="837" font-size="12.4" fill="#7d7d7d" textLength="83" lengthAdjust="spacingAndGlyphs">USDX-,Weekly</text>
<text x="1084" y="837" font-size="12.4" fill="#7d7d7d" textLength="71" lengthAdjust="spacingAndGlyphs">EURCHF-,H1</text>
<text x="1178" y="837" font-size="12.4" fill="#7d7d7d" textLength="56" lengthAdjust="spacingAndGlyphs">USOil-,H1</text>
</g>
<rect x="330" y="825" width="1" height="13" fill="#808080"/>
<rect x="438" y="825" width="1" height="13" fill="#808080"/>
<rect x="550" y="825" width="1" height="13" fill="#808080"/>
<rect x="670" y="825" width="1" height="13" fill="#808080"/>
<rect x="794" y="825" width="1" height="13" fill="#808080"/>
<rect x="890" y="825" width="1" height="13" fill="#808080"/>
<rect x="968" y="825" width="1" height="13" fill="#808080"/>
<rect x="1074" y="825" width="1" height="13" fill="#808080"/>
<rect x="1166" y="825" width="1" height="13" fill="#808080"/>
<rect x="1246" y="825" width="1" height="13" fill="#808080"/>
<polygon points="1435.5,831 1439,827 1439,835" fill="#909090" shape-rendering="auto"/>
<polygon points="1458.5,831 1455,827 1455,835" fill="#909090" shape-rendering="auto"/>
<g shape-rendering="auto" text-rendering="geometricPrecision">
<text x="7.7" y="9" font-size="9.6" fill="#333" textLength="12.5" lengthAdjust="spacingAndGlyphs">H4</text>
<text x="37" y="9" font-size="9.6" fill="#333" textLength="11" lengthAdjust="spacingAndGlyphs">D1</text>
<text x="64" y="9" font-size="9.6" fill="#333" textLength="14" lengthAdjust="spacingAndGlyphs">W1</text>
<text x="91" y="9" font-size="9.6" fill="#333" textLength="14" lengthAdjust="spacingAndGlyphs">MN</text>
</g>
<rect x="30" y="0" width="1" height="15" fill="#a0a0a0"/>
<rect x="113" y="0" width="1" height="17" fill="#a0a0a0"/>
<pattern id="chk" width="2" height="2" patternUnits="userSpaceOnUse"><rect width="2" height="2" fill="#f0f0f0"/><rect width="1" height="1" fill="#fff"/><rect x="1" y="1" width="1" height="1" fill="#fff"/></pattern>
<rect x="31" y="0" width="24" height="15" fill="url(#chk)"/>
<text x="37" y="9" font-size="9.6" fill="#333" textLength="11" lengthAdjust="spacingAndGlyphs" shape-rendering="auto">D1</text>
<g shape-rendering="auto" text-rendering="geometricPrecision">
<path d="M8,41 H60 V65 H117 V105 H8 Z" fill="url(#gs)" shape-rendering="crispEdges"/>
<path d="M226.5,41 H175 V65 H119 V105 H226.5 Z" fill="url(#gs)" shape-rendering="crispEdges"/>
<path d="M8.5,104.5 V41.5 H59.5 V65" fill="none" stroke="#b01010" stroke-opacity="0.55" stroke-width="1" shape-rendering="crispEdges"/>
<path d="M175.5,65 V41.5 H226 V104.5" fill="none" stroke="#b01010" stroke-opacity="0.55" stroke-width="1" shape-rendering="crispEdges"/>
<rect x="12" y="64" width="45" height="1" fill="#5c0000" shape-rendering="crispEdges"/>
<rect x="179" y="64" width="44" height="1" fill="#5c0000" shape-rendering="crispEdges"/>
<rect x="12" y="65" width="45" height="1" fill="#e66" shape-rendering="crispEdges" opacity="0.5"/>
<rect x="179" y="65" width="44" height="1" fill="#e66" shape-rendering="crispEdges" opacity="0.5"/>
<text x="20" y="57" font-size="12" fill="#fff" textLength="26" lengthAdjust="spacingAndGlyphs">SELL</text>
<text x="188" y="57" font-size="12" fill="#fff" textLength="23" lengthAdjust="spacingAndGlyphs">BUY</text>
<text x="28" y="96" font-size="11.8" fill="#fff" textLength="24" lengthAdjust="spacingAndGlyphs" font-weight="bold">0.68</text>
<text x="138" y="96" font-size="11.8" fill="#fff" textLength="24" lengthAdjust="spacingAndGlyphs" font-weight="bold">0.68</text>
<text x="56" y="96" font-size="34" fill="#fff" textLength="33" lengthAdjust="spacingAndGlyphs">59</text>
<text x="166" y="96" font-size="34" fill="#fff" textLength="33" lengthAdjust="spacingAndGlyphs">61</text>
<text x="95" y="80" font-size="12" fill="#fff" textLength="7" lengthAdjust="spacingAndGlyphs" font-weight="bold">4</text>
<text x="206" y="80" font-size="12" fill="#fff" textLength="7" lengthAdjust="spacingAndGlyphs" font-weight="bold">4</text>
<rect x="62.5" y="41.5" width="110" height="21" fill="#ffffff" stroke="#a3a7b3" stroke-width="1" shape-rendering="crispEdges"/>
<rect x="83" y="42" width="1" height="20" fill="#a3a7b3" shape-rendering="crispEdges"/>
<rect x="151" y="42" width="1" height="20" fill="#a3a7b3" shape-rendering="crispEdges"/>
<rect x="64" y="43" width="18" height="18" fill="url(#gbtn)" shape-rendering="crispEdges"/>
<rect x="153" y="43" width="18" height="18" fill="url(#gbtn)" shape-rendering="crispEdges"/>
<rect x="70" y="50" width="5" height="1" fill="#5560b4" shape-rendering="crispEdges"/>
<rect x="161" y="50" width="1" height="1" fill="#5560b4" shape-rendering="crispEdges"/>
<rect x="71" y="51" width="3" height="1" fill="#5560b4" shape-rendering="crispEdges"/>
<rect x="160" y="51" width="3" height="1" fill="#5560b4" shape-rendering="crispEdges"/>
<rect x="72" y="52" width="1" height="1" fill="#5560b4" shape-rendering="crispEdges"/>
<rect x="159" y="52" width="5" height="1" fill="#5560b4" shape-rendering="crispEdges"/>
<text x="124.6" y="56" font-size="12.3" fill="#000" textLength="23" lengthAdjust="spacingAndGlyphs">1.00</text>
</g>
</svg>
</body></html>
